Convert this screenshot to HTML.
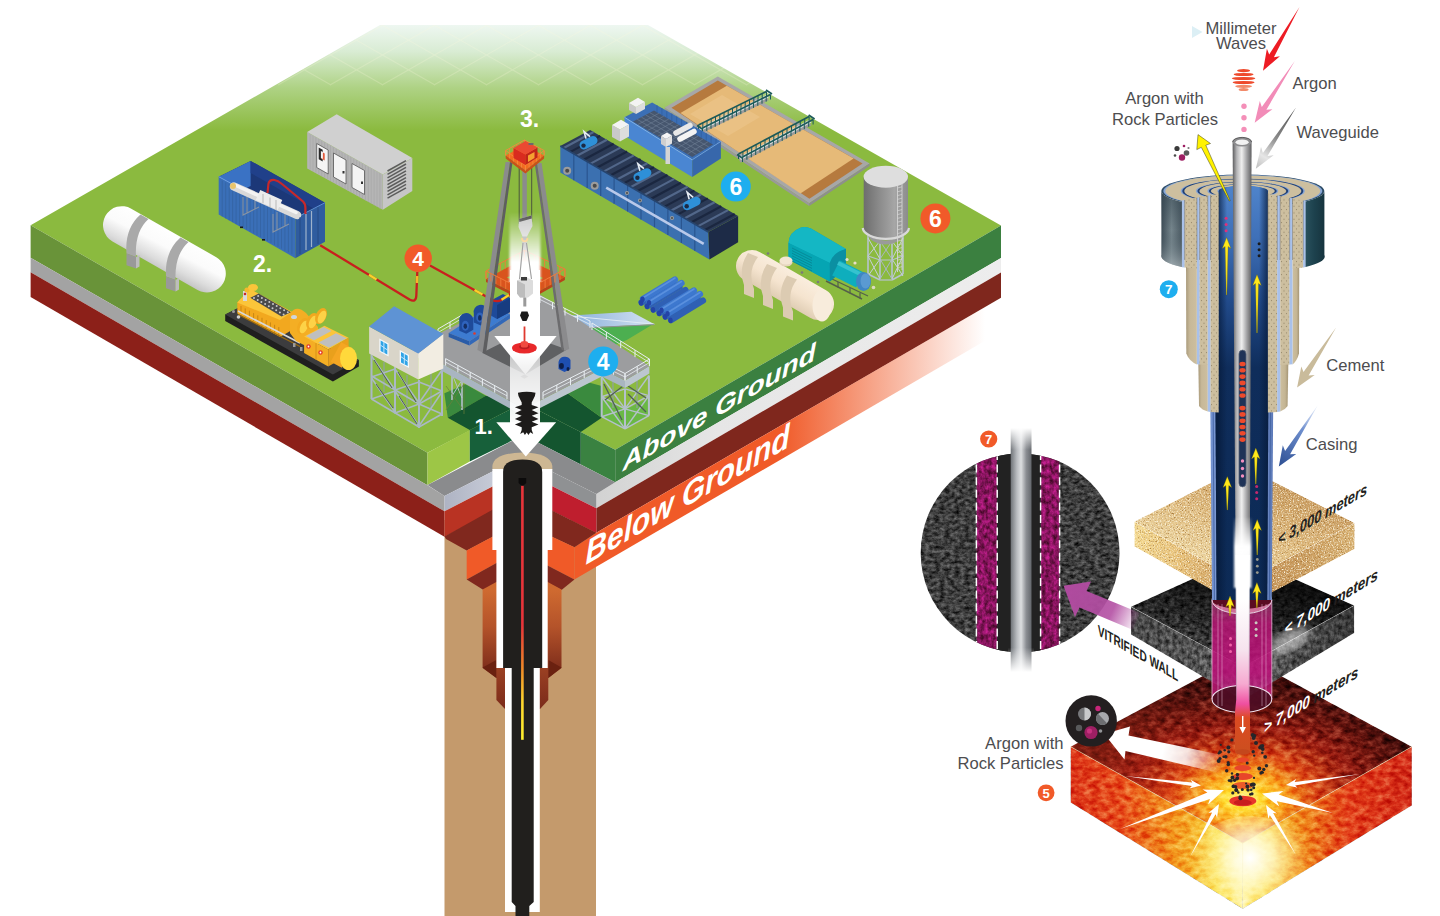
<!DOCTYPE html>
<html lang="en"><head><meta charset="utf-8"><title>Millimeter wave drilling</title>
<style>
html,body{margin:0;padding:0;background:#fff;}
body{width:1440px;height:916px;overflow:hidden;font-family:"Liberation Sans",sans-serif;}
svg{display:block;}
text{font-family:"Liberation Sans",sans-serif;}
</style></head><body>
<svg width="1440" height="916" viewBox="0 0 1440 916">
<defs>
<clipPath id="clipTopFade"><polygon points="30.6,225.3 380,25 648,25 1001,225.6 515,500"/></clipPath>
<linearGradient id="gTop" gradientUnits="userSpaceOnUse" x1="0" y1="25" x2="0" y2="130"><stop offset="0" stop-color="#eef7f1"/><stop offset="0.25" stop-color="#d9ecd4"/><stop offset="0.6" stop-color="#aed284"/><stop offset="1" stop-color="#8bba3f"/></linearGradient><linearGradient id="gOrange" gradientUnits="userSpaceOnUse" x1="780" y1="0" x2="985" y2="0"><stop offset="0" stop-color="#f05a28" stop-opacity="1"/><stop offset="1" stop-color="#f05a28" stop-opacity="0"/></linearGradient><linearGradient id="gSilver" gradientUnits="userSpaceOnUse" x1="444" y1="0" x2="522" y2="0"><stop offset="0" stop-color="#aeb3c3"/><stop offset="1" stop-color="#d4d8e2"/></linearGradient><linearGradient id="gWhiteBand" gradientUnits="userSpaceOnUse" x1="596" y1="0" x2="1001" y2="0"><stop offset="0" stop-color="#d2d2d2"/><stop offset="0.3" stop-color="#e6e6e6"/><stop offset="1" stop-color="#ededed"/></linearGradient><linearGradient id="gBrownA" gradientUnits="userSpaceOnUse" x1="0" y1="590" x2="0" y2="672"><stop offset="0" stop-color="#cf6a30"/><stop offset="0.45" stop-color="#b4532a"/><stop offset="1" stop-color="#7b2b1a"/></linearGradient><linearGradient id="gBrownB" gradientUnits="userSpaceOnUse" x1="0" y1="590" x2="0" y2="709"><stop offset="0" stop-color="#c8642e"/><stop offset="0.5" stop-color="#a94a27"/><stop offset="1" stop-color="#7b2b1a"/></linearGradient><linearGradient id="gLine" gradientUnits="userSpaceOnUse" x1="0" y1="485" x2="0" y2="740"><stop offset="0" stop-color="#e8343a"/><stop offset="0.55" stop-color="#e8343a"/><stop offset="0.72" stop-color="#f08a28"/><stop offset="0.85" stop-color="#ffd62e"/><stop offset="1" stop-color="#fff02e"/></linearGradient><linearGradient id="gArrowFade" gradientUnits="userSpaceOnUse" x1="0" y1="212" x2="0" y2="262"><stop offset="0" stop-color="#ffffff" stop-opacity="0"/><stop offset="1" stop-color="#ffffff" stop-opacity="1"/></linearGradient><linearGradient id="gArrowHead" gradientUnits="userSpaceOnUse" x1="0" y1="336" x2="0" y2="376"><stop offset="0" stop-color="#ffffff" stop-opacity="1"/><stop offset="0.45" stop-color="#ffffff" stop-opacity="1"/><stop offset="1" stop-color="#ffffff" stop-opacity="0.55"/></linearGradient><linearGradient id="gArrowMid" gradientUnits="userSpaceOnUse" x1="0" y1="336" x2="0" y2="425"><stop offset="0" stop-color="#ffffff" stop-opacity="0.55"/><stop offset="0.5" stop-color="#ffffff" stop-opacity="0.8"/><stop offset="1" stop-color="#ffffff" stop-opacity="1"/></linearGradient><filter id="fBlurA" x="-20%" y="-5%" width="140%" height="110%"><feGaussianBlur stdDeviation="1.3 0"/></filter><linearGradient id="gTank" gradientUnits="userSpaceOnUse" x1="175" y1="230" x2="155" y2="268"><stop offset="0" stop-color="#ffffff"/><stop offset="0.45" stop-color="#fbfbfb"/><stop offset="0.8" stop-color="#dcdcdc"/><stop offset="1" stop-color="#c4c4c4"/></linearGradient><linearGradient id="gCream" gradientUnits="userSpaceOnUse" x1="797" y1="268" x2="775" y2="305"><stop offset="0" stop-color="#fbf0e2"/><stop offset="0.5" stop-color="#f5e4cf"/><stop offset="1" stop-color="#d6c3a8"/></linearGradient><linearGradient id="gSilo" gradientUnits="userSpaceOnUse" x1="863" y1="0" x2="908" y2="0"><stop offset="0" stop-color="#6c6c6c"/><stop offset="0.35" stop-color="#8a8a8a"/><stop offset="0.7" stop-color="#a6a6a6"/><stop offset="1" stop-color="#8c8c8c"/></linearGradient><linearGradient id="gRamp" gradientUnits="userSpaceOnUse" x1="567" y1="0" x2="654" y2="0"><stop offset="0" stop-color="#86aedb"/><stop offset="0.6" stop-color="#b5cde8"/><stop offset="1" stop-color="#d5e3f0"/></linearGradient><linearGradient id="gTeal" gradientUnits="userSpaceOnUse" x1="790" y1="230" x2="830" y2="280"><stop offset="0" stop-color="#12b5c2"/><stop offset="1" stop-color="#0096aa"/></linearGradient><linearGradient id="gPipe" gradientUnits="objectBoundingBox" x1="0" y1="0" x2="1" y2="1"><stop offset="0" stop-color="#5a8fe0"/><stop offset="1" stop-color="#2d5fb5"/></linearGradient><linearGradient id="gLegL" gradientUnits="objectBoundingBox" x1="0" y1="0" x2="1" y2="0"><stop offset="0" stop-color="#9a9a9c"/><stop offset="0.5" stop-color="#8a8a8c"/><stop offset="0.5" stop-color="#5e5e60"/><stop offset="1" stop-color="#6a6a6c"/></linearGradient><linearGradient id="gWG" gradientUnits="objectBoundingBox" x1="0" y1="0" x2="1" y2="0"><stop offset="0" stop-color="#5c5c5e"/><stop offset="0.22" stop-color="#b4b4b6"/><stop offset="0.48" stop-color="#efefef"/><stop offset="0.75" stop-color="#a2a2a4"/><stop offset="1" stop-color="#606062"/></linearGradient><linearGradient id="gBoreV" gradientUnits="userSpaceOnUse" x1="0" y1="185" x2="0" y2="620"><stop offset="0" stop-color="#4f84cb"/><stop offset="0.12" stop-color="#3f70b8"/><stop offset="0.27" stop-color="#214a8a"/><stop offset="0.42" stop-color="#0f2d5b"/><stop offset="1" stop-color="#0c2a55"/></linearGradient><linearGradient id="gBoreH" gradientUnits="userSpaceOnUse" x1="1218" y1="0" x2="1268" y2="0"><stop offset="0" stop-color="#061a3a" stop-opacity="0.75"/><stop offset="0.18" stop-color="#061a3a" stop-opacity="0"/><stop offset="0.82" stop-color="#061a3a" stop-opacity="0"/><stop offset="1" stop-color="#061a3a" stop-opacity="0.75"/></linearGradient><linearGradient id="gOuterL" gradientUnits="userSpaceOnUse" x1="1161" y1="0" x2="1182" y2="0"><stop offset="0" stop-color="#3c4b55"/><stop offset="0.5" stop-color="#75858c"/><stop offset="1" stop-color="#4b5a63"/></linearGradient><linearGradient id="gOuterLV" gradientUnits="userSpaceOnUse" x1="0" y1="195" x2="0" y2="265"><stop offset="0" stop-color="#2d3f4a" stop-opacity="0.5"/><stop offset="0.5" stop-color="#2d3f4a" stop-opacity="0"/><stop offset="1" stop-color="#c5cdd0" stop-opacity="0.45"/></linearGradient><linearGradient id="gOuterR" gradientUnits="userSpaceOnUse" x1="1303" y1="0" x2="1325" y2="0"><stop offset="0" stop-color="#2d5561"/><stop offset="0.5" stop-color="#1d424e"/><stop offset="1" stop-color="#16333d"/></linearGradient><linearGradient id="gBeigeOut" gradientUnits="objectBoundingBox" x1="0" y1="0" x2="1" y2="0"><stop offset="0" stop-color="#a99a7b"/><stop offset="0.35" stop-color="#c7b898"/><stop offset="1" stop-color="#cdbf9f"/></linearGradient><linearGradient id="gBeigeOutR" gradientUnits="objectBoundingBox" x1="0" y1="0" x2="1" y2="0"><stop offset="0" stop-color="#cdbf9f"/><stop offset="0.6" stop-color="#c4b594"/><stop offset="1" stop-color="#a39474"/></linearGradient><pattern id="pDots" width="5" height="6.5" patternUnits="userSpaceOnUse"><rect width="5" height="6.5" fill="#cdbf9f"/><circle cx="1.5" cy="1.5" r="0.55" fill="#8f8164"/><circle cx="4" cy="4.8" r="0.55" fill="#8f8164"/></pattern><linearGradient id="gCasingEdge" gradientUnits="objectBoundingBox" x1="0" y1="0" x2="1" y2="0"><stop offset="0" stop-color="#6f8fce"/><stop offset="0.5" stop-color="#b7c9ee"/><stop offset="1" stop-color="#5b79b8"/></linearGradient><linearGradient id="gArrGrey" gradientUnits="userSpaceOnUse" x1="1296" y1="107" x2="1256" y2="169"><stop offset="0" stop-color="#4a4a4a"/><stop offset="0.5" stop-color="#8a8a8a"/><stop offset="0.8" stop-color="#e6e6e6"/><stop offset="1" stop-color="#bdbdbd"/></linearGradient><linearGradient id="gArrBlue" gradientUnits="userSpaceOnUse" x1="1318" y1="405" x2="1279" y2="466"><stop offset="0" stop-color="#9db7e6" stop-opacity="0.2"/><stop offset="0.4" stop-color="#6f8fce"/><stop offset="1" stop-color="#2d4f93"/></linearGradient><linearGradient id="gArrPurple" gradientUnits="userSpaceOnUse" x1="1140" y1="621" x2="1064" y2="586"><stop offset="0" stop-color="#b34fa3" stop-opacity="0"/><stop offset="0.35" stop-color="#b34fa3" stop-opacity="0.9"/><stop offset="1" stop-color="#b04a9f"/></linearGradient><linearGradient id="gArrWhite" gradientUnits="userSpaceOnUse" x1="1222" y1="764" x2="1104" y2="738"><stop offset="0" stop-color="#ffffff" stop-opacity="0"/><stop offset="0.3" stop-color="#ffffff" stop-opacity="0.85"/><stop offset="0.5" stop-color="#ffffff" stop-opacity="1"/><stop offset="1" stop-color="#ffffff"/></linearGradient><linearGradient id="gSandTop" gradientUnits="userSpaceOnUse" x1="1260" y1="470" x2="1215" y2="580"><stop offset="0" stop-color="#c5965a"/><stop offset="0.45" stop-color="#dcb679"/><stop offset="1" stop-color="#f0dba6"/></linearGradient><linearGradient id="gSandL" gradientUnits="userSpaceOnUse" x1="1134" y1="0" x2="1243" y2="0"><stop offset="0" stop-color="#f3d88e"/><stop offset="0.45" stop-color="#e6be76"/><stop offset="1" stop-color="#c4935a"/></linearGradient><linearGradient id="gSandR" gradientUnits="userSpaceOnUse" x1="1243" y1="0" x2="1355" y2="0"><stop offset="0" stop-color="#c08c50"/><stop offset="0.5" stop-color="#c99a5c"/><stop offset="1" stop-color="#d7b071"/></linearGradient><linearGradient id="gRockTop" gradientUnits="userSpaceOnUse" x1="1250" y1="560" x2="1225" y2="665"><stop offset="0" stop-color="#080808"/><stop offset="0.4" stop-color="#1c1c1c"/><stop offset="1" stop-color="#454545"/></linearGradient><linearGradient id="gRockL" gradientUnits="userSpaceOnUse" x1="1131" y1="0" x2="1243" y2="0"><stop offset="0" stop-color="#4a4a4a"/><stop offset="1" stop-color="#626262"/></linearGradient><linearGradient id="gRockR" gradientUnits="userSpaceOnUse" x1="1243" y1="0" x2="1354" y2="0"><stop offset="0" stop-color="#7a7a7a"/><stop offset="0.4" stop-color="#505050"/><stop offset="1" stop-color="#3c3c3c"/></linearGradient><radialGradient id="gRedTop" gradientUnits="userSpaceOnUse" cx="1242.7" cy="798" r="175" gradientTransform="translate(1242.7 798) scale(1 0.62) translate(-1242.7 -798)"><stop offset="0" stop-color="#fff7a0"/><stop offset="0.1" stop-color="#ffe23a"/><stop offset="0.24" stop-color="#f9a41e"/><stop offset="0.42" stop-color="#dc4a18"/><stop offset="0.65" stop-color="#9c1d12"/><stop offset="1" stop-color="#4a0f0c"/></radialGradient><linearGradient id="gRedL" gradientUnits="userSpaceOnUse" x1="1070" y1="0" x2="1243" y2="0"><stop offset="0" stop-color="#dd3418"/><stop offset="0.3" stop-color="#e8501c"/><stop offset="0.6" stop-color="#f39a1e"/><stop offset="0.85" stop-color="#fbe04a"/><stop offset="1" stop-color="#fff6b0"/></linearGradient><linearGradient id="gRedR" gradientUnits="userSpaceOnUse" x1="1243" y1="0" x2="1412" y2="0"><stop offset="0" stop-color="#fff6b0"/><stop offset="0.13" stop-color="#fbd83c"/><stop offset="0.36" stop-color="#f08a1c"/><stop offset="0.62" stop-color="#e3401a"/><stop offset="1" stop-color="#d42a18"/></linearGradient><linearGradient id="gRedTopL" gradientUnits="userSpaceOnUse" x1="1072" y1="748" x2="1190" y2="760"><stop offset="0" stop-color="#d8351a" stop-opacity="0.4"/><stop offset="1" stop-color="#d8351a" stop-opacity="0"/></linearGradient><radialGradient id="gGlow" gradientUnits="userSpaceOnUse" cx="1250" cy="858" r="60" ><stop offset="0" stop-color="#ffffff" stop-opacity="1"/><stop offset="0.4" stop-color="#fffbd0" stop-opacity="0.8"/><stop offset="1" stop-color="#fff080" stop-opacity="0"/></radialGradient><linearGradient id="gMag" gradientUnits="userSpaceOnUse" x1="0" y1="596" x2="0" y2="705"><stop offset="0" stop-color="#e9509f" stop-opacity="0.45"/><stop offset="0.25" stop-color="#c4157c" stop-opacity="0.8"/><stop offset="0.7" stop-color="#b80f76" stop-opacity="0.9"/><stop offset="1" stop-color="#d0208a" stop-opacity="0.6"/></linearGradient><linearGradient id="gBeamLow" gradientUnits="userSpaceOnUse" x1="0" y1="560" x2="0" y2="760"><stop offset="0" stop-color="#ffffff"/><stop offset="0.2" stop-color="#ffffff"/><stop offset="0.45" stop-color="#f6e3ee"/><stop offset="0.62" stop-color="#f6a9d0"/><stop offset="0.72" stop-color="#ef4fa0"/><stop offset="0.79" stop-color="#dc4a22"/><stop offset="1" stop-color="#c8501e"/></linearGradient><linearGradient id="gWGlow" gradientUnits="userSpaceOnUse" x1="0" y1="515" x2="0" y2="585"><stop offset="0" stop-color="#ffffff" stop-opacity="0"/><stop offset="0.45" stop-color="#ffffff" stop-opacity="1"/><stop offset="1" stop-color="#ffffff" stop-opacity="0.9"/></linearGradient><linearGradient id="gRod" gradientUnits="objectBoundingBox" x1="0" y1="0" x2="1" y2="0"><stop offset="0" stop-color="#6f7378"/><stop offset="0.3" stop-color="#b9bcc0"/><stop offset="0.5" stop-color="#dcdee0"/><stop offset="0.75" stop-color="#8a8d92"/><stop offset="1" stop-color="#63676c"/></linearGradient><linearGradient id="gRodFade" gradientUnits="userSpaceOnUse" x1="0" y1="428" x2="0" y2="672"><stop offset="0" stop-color="#ffffff" stop-opacity="1"/><stop offset="0.09" stop-color="#ffffff" stop-opacity="0"/><stop offset="0.9" stop-color="#ffffff" stop-opacity="0"/><stop offset="1" stop-color="#ffffff" stop-opacity="1"/></linearGradient><filter id="fSand" x="0" y="0" width="100%" height="100%" color-interpolation-filters="sRGB">
<feTurbulence type="fractalNoise" baseFrequency="0.75" numOctaves="2" seed="4" result="n"/>
<feColorMatrix in="n" type="matrix" values="0 0 0 0 1  0 0 0 0 0.98  0 0 0 0 0.9  2.6 0 0 0 -1.25" result="w"/>
<feColorMatrix in="n" type="matrix" values="0 0 0 0 0.55  0 0 0 0 0.35  0 0 0 0 0.1  0 -2.6 0 0 1.15" result="k"/>
<feMerge result="m"><feMergeNode in="SourceGraphic"/><feMergeNode in="k"/><feMergeNode in="w"/></feMerge>
<feComposite in="m" in2="SourceGraphic" operator="in"/></filter><filter id="fRock" x="0" y="0" width="100%" height="100%" color-interpolation-filters="sRGB">
<feTurbulence type="fractalNoise" baseFrequency="0.2 0.28" numOctaves="4" seed="11" result="n"/>
<feColorMatrix in="n" type="matrix" values="1.15 0 0 0 -0.09  1.15 0 0 0 -0.09  1.15 0 0 0 -0.09  0 0 0 0 1" result="g"/>
<feBlend in="g" in2="SourceGraphic" mode="overlay" result="b"/>
<feComposite in="b" in2="SourceGraphic" operator="in"/></filter><filter id="fRock2" x="0" y="0" width="100%" height="100%" color-interpolation-filters="sRGB">
<feTurbulence type="fractalNoise" baseFrequency="0.26 0.2" numOctaves="4" seed="23" result="n"/>
<feColorMatrix in="n" type="matrix" values="0.85 0 0 0 0.06  0.85 0 0 0 0.06  0.85 0 0 0 0.06  0 0 0 0 1" result="g"/>
<feBlend in="g" in2="SourceGraphic" mode="overlay" result="b"/>
<feComposite in="b" in2="SourceGraphic" operator="in"/></filter><filter id="fLava" x="0" y="0" width="100%" height="100%" color-interpolation-filters="sRGB">
<feTurbulence type="fractalNoise" baseFrequency="0.12 0.18" numOctaves="4" seed="7" result="n"/>
<feColorMatrix in="n" type="matrix" values="1.5 0 0 0 -0.27  1.5 0 0 0 -0.27  1.5 0 0 0 -0.27  0 0 0 0 1" result="g"/>
<feBlend in="g" in2="SourceGraphic" mode="soft-light" result="b"/>
<feComposite in="b" in2="SourceGraphic" operator="in"/></filter><filter id="fRockD" x="0" y="0" width="100%" height="100%" color-interpolation-filters="sRGB">
<feTurbulence type="fractalNoise" baseFrequency="0.2 0.28" numOctaves="4" seed="3" result="n"/>
<feColorMatrix in="n" type="matrix" values="1.3 0 0 0 -0.2  1.3 0 0 0 -0.2  1.3 0 0 0 -0.2  0 0 0 0 1" result="g"/>
<feBlend in="g" in2="SourceGraphic" mode="overlay" result="b"/>
<feComposite in="b" in2="SourceGraphic" operator="in"/></filter><filter id="fBlur2"><feGaussianBlur stdDeviation="2"/></filter><filter id="fBlur4"><feGaussianBlur stdDeviation="4"/></filter><filter id="fBlur1"><feGaussianBlur stdDeviation="1"/></filter><clipPath id="clipRed"><polygon points="1070.7,746.7 1242,655 1411.8,746.7 1411.8,805.4 1242.7,908.8 1070.7,802.6"/></clipPath><clipPath id="clipMag"><circle cx="1020.1" cy="552.9" r="99.4"/></clipPath><clipPath id="clipRingTop"><rect x="1150" y="160" width="190" height="33"/></clipPath>
</defs>
<rect x="444.5" y="520.0" width="151.5" height="400.0" fill="#c49a6c" /><polygon points="30.6,225.3 380.0,25.0 648.0,25.0 1001.0,225.6 615.2,449.8 523.2,402.6 427.5,452.7" fill="url(#gTop)" /><g opacity="0.22" clip-path="url(#clipTopFade)"><line x1="278.0" y1="85.0" x2="383.0" y2="25.0" stroke="#fffbe0" stroke-width="1.2" /><line x1="331.0" y1="85.0" x2="226.0" y2="25.0" stroke="#fffbe0" stroke-width="1.2" /><line x1="330.0" y1="85.0" x2="435.0" y2="25.0" stroke="#fffbe0" stroke-width="1.2" /><line x1="383.0" y1="85.0" x2="278.0" y2="25.0" stroke="#fffbe0" stroke-width="1.2" /><line x1="382.0" y1="85.0" x2="487.0" y2="25.0" stroke="#fffbe0" stroke-width="1.2" /><line x1="435.0" y1="85.0" x2="330.0" y2="25.0" stroke="#fffbe0" stroke-width="1.2" /><line x1="434.0" y1="85.0" x2="539.0" y2="25.0" stroke="#fffbe0" stroke-width="1.2" /><line x1="487.0" y1="85.0" x2="382.0" y2="25.0" stroke="#fffbe0" stroke-width="1.2" /><line x1="486.0" y1="85.0" x2="591.0" y2="25.0" stroke="#fffbe0" stroke-width="1.2" /><line x1="539.0" y1="85.0" x2="434.0" y2="25.0" stroke="#fffbe0" stroke-width="1.2" /><line x1="538.0" y1="85.0" x2="643.0" y2="25.0" stroke="#fffbe0" stroke-width="1.2" /><line x1="591.0" y1="85.0" x2="486.0" y2="25.0" stroke="#fffbe0" stroke-width="1.2" /><line x1="590.0" y1="85.0" x2="695.0" y2="25.0" stroke="#fffbe0" stroke-width="1.2" /><line x1="643.0" y1="85.0" x2="538.0" y2="25.0" stroke="#fffbe0" stroke-width="1.2" /><line x1="642.0" y1="85.0" x2="747.0" y2="25.0" stroke="#fffbe0" stroke-width="1.2" /><line x1="695.0" y1="85.0" x2="590.0" y2="25.0" stroke="#fffbe0" stroke-width="1.2" /><line x1="694.0" y1="85.0" x2="799.0" y2="25.0" stroke="#fffbe0" stroke-width="1.2" /><line x1="747.0" y1="85.0" x2="642.0" y2="25.0" stroke="#fffbe0" stroke-width="1.2" /><line x1="746.0" y1="85.0" x2="851.0" y2="25.0" stroke="#fffbe0" stroke-width="1.2" /><line x1="799.0" y1="85.0" x2="694.0" y2="25.0" stroke="#fffbe0" stroke-width="1.2" /><line x1="798.0" y1="85.0" x2="903.0" y2="25.0" stroke="#fffbe0" stroke-width="1.2" /><line x1="851.0" y1="85.0" x2="746.0" y2="25.0" stroke="#fffbe0" stroke-width="1.2" /></g><polygon points="30.6,225.3 427.5,452.7 427.5,485.2 30.6,257.8" fill="#699339" /><polygon points="30.6,257.8 427.5,485.2 444.5,496.0 444.5,511.3 30.6,272.3" fill="#a3a3a3" /><polygon points="30.6,272.3 444.5,511.3 444.5,536.8 30.6,297.0" fill="#8c2019" /><polygon points="615.2,449.8 1001.0,225.6 1001.0,258.1 615.2,482.3" fill="#3b8040" /><polygon points="596.3,494.0 615.2,482.3 1001.0,258.1 1001.0,272.5 596.3,508.3" fill="url(#gWhiteBand)" /><polygon points="596.3,508.3 1001.0,272.5 1001.0,297.7 596.3,532.7" fill="#7f271d" /><polygon points="574.4,547.3 596.3,532.7 1001.0,297.7 1001.0,331.5 574.4,579.4" fill="url(#gOrange)" /><polygon points="427.5,452.7 469.8,430.1 469.8,461.5 427.5,485.1" fill="#9dc646" /><polygon points="469.8,430.1 523.2,402.6 523.2,435.1 469.8,461.5" fill="#17603a" /><polygon points="523.2,402.6 580.8,432.1 580.8,464.6 523.2,435.1" fill="#14552f" /><polygon points="580.8,432.1 615.2,449.8 615.2,482.3 580.8,464.6" fill="#3a8241" /><polygon points="427.5,485.1 523.2,435.1 615.2,482.3 596.3,494.0 521.8,456.5 444.5,496.0" fill="#8a8b8d" /><polygon points="521.8,456.5 596.3,494.0 596.3,508.3 521.8,471.0" fill="#8f9193" /><polygon points="444.5,496.0 521.8,456.5 521.8,471.0 444.5,511.3" fill="url(#gSilver)" /><polygon points="444.5,511.3 521.8,471.5 521.8,496.0 444.5,536.8" fill="#b93323" /><polygon points="521.8,471.0 596.3,508.3 596.3,532.7 521.8,496.0" fill="#bf1e2e" /><polygon points="444.5,536.6 522.0,493.2 522.0,521.1 466.7,550.6 446.0,538.9" fill="#80281e" /><polygon points="522.0,495.4 596.3,532.7 574.4,547.3 522.0,522.7" fill="#80281e" /><polygon points="466.7,550.6 522.0,521.1 522.0,549.0 466.7,579.4" fill="#f05a28" /><polygon points="522.0,522.7 574.4,547.3 574.4,579.4 522.0,552.3" fill="#f05a28" /><polygon points="466.7,579.4 522.0,549.0 522.0,568.5 483.5,590.0" fill="#80281e" /><polygon points="522.0,552.3 574.4,579.4 561.5,590.0 522.0,570.0" fill="#80281e" /><polygon points="482.6,589.5 522.0,568.0 561.5,589.5 561.5,668.0 548.3,678.0 496.4,678.0 482.6,668.0" fill="url(#gBrownA)" /><polygon points="482.6,667.6 496.4,660.0 496.4,678.0" fill="#6a2110" /><polygon points="561.5,667.6 548.3,660.0 548.3,678.0" fill="#6a2110" /><polygon points="496.4,600.0 548.3,600.0 548.3,700.0 540.0,709.0 505.0,709.0 496.4,700.0" fill="url(#gBrownB)" /><polygon points="664.7,107.5 717.8,76.5 869.6,163.5 809.2,203.3" fill="#a7a7a7" /><polygon points="809.2,203.3 869.6,163.5 869.6,166.0 809.2,206.0" fill="#8e8e8e" /><polygon points="664.7,107.5 809.2,203.3 809.2,206.0 664.7,110.0" fill="#999999" /><polygon points="671.5,107.8 717.8,80.6 862.6,163.6 809.4,198.8" fill="#b67a3e" /><polygon points="680.5,113.0 726.8,85.8 853.6,158.4 800.4,193.6" fill="#e6ba78" /><polygon points="690.0,114.0 722.0,95.0 760.0,117.0 728.0,136.0" fill="#ecc78c" opacity="0.6"/><line x1="700.0" y1="132.5" x2="768.0" y2="99.0" stroke="#9a9a9a" stroke-width="3" /><line x1="700.0" y1="129.5" x2="768.0" y2="96.0" stroke="#d9dde0" stroke-width="3.2" /><line x1="698.5" y1="125.0" x2="766.5" y2="91.5" stroke="#1c5a59" stroke-width="1.6" /><line x1="702.5" y1="128.0" x2="770.5" y2="94.5" stroke="#1c5a59" stroke-width="1.6" /><line x1="698.5" y1="125.0" x2="698.5" y2="130.0" stroke="#1c5a59" stroke-width="1" /><line x1="702.5" y1="128.0" x2="702.5" y2="133.0" stroke="#1c5a59" stroke-width="1" /><line x1="702.8" y1="122.9" x2="702.8" y2="127.9" stroke="#1c5a59" stroke-width="1" /><line x1="706.8" y1="125.9" x2="706.8" y2="130.9" stroke="#1c5a59" stroke-width="1" /><line x1="707.0" y1="120.8" x2="707.0" y2="125.8" stroke="#1c5a59" stroke-width="1" /><line x1="711.0" y1="123.8" x2="711.0" y2="128.8" stroke="#1c5a59" stroke-width="1" /><line x1="711.2" y1="118.7" x2="711.2" y2="123.7" stroke="#1c5a59" stroke-width="1" /><line x1="715.2" y1="121.7" x2="715.2" y2="126.7" stroke="#1c5a59" stroke-width="1" /><line x1="715.5" y1="116.6" x2="715.5" y2="121.6" stroke="#1c5a59" stroke-width="1" /><line x1="719.5" y1="119.6" x2="719.5" y2="124.6" stroke="#1c5a59" stroke-width="1" /><line x1="719.8" y1="114.5" x2="719.8" y2="119.5" stroke="#1c5a59" stroke-width="1" /><line x1="723.8" y1="117.5" x2="723.8" y2="122.5" stroke="#1c5a59" stroke-width="1" /><line x1="724.0" y1="112.4" x2="724.0" y2="117.4" stroke="#1c5a59" stroke-width="1" /><line x1="728.0" y1="115.4" x2="728.0" y2="120.4" stroke="#1c5a59" stroke-width="1" /><line x1="728.2" y1="110.3" x2="728.2" y2="115.3" stroke="#1c5a59" stroke-width="1" /><line x1="732.2" y1="113.3" x2="732.2" y2="118.3" stroke="#1c5a59" stroke-width="1" /><line x1="732.5" y1="108.2" x2="732.5" y2="113.2" stroke="#1c5a59" stroke-width="1" /><line x1="736.5" y1="111.2" x2="736.5" y2="116.2" stroke="#1c5a59" stroke-width="1" /><line x1="736.8" y1="106.2" x2="736.8" y2="111.2" stroke="#1c5a59" stroke-width="1" /><line x1="740.8" y1="109.2" x2="740.8" y2="114.2" stroke="#1c5a59" stroke-width="1" /><line x1="741.0" y1="104.1" x2="741.0" y2="109.1" stroke="#1c5a59" stroke-width="1" /><line x1="745.0" y1="107.1" x2="745.0" y2="112.1" stroke="#1c5a59" stroke-width="1" /><line x1="745.2" y1="102.0" x2="745.2" y2="107.0" stroke="#1c5a59" stroke-width="1" /><line x1="749.2" y1="105.0" x2="749.2" y2="110.0" stroke="#1c5a59" stroke-width="1" /><line x1="749.5" y1="99.9" x2="749.5" y2="104.9" stroke="#1c5a59" stroke-width="1" /><line x1="753.5" y1="102.9" x2="753.5" y2="107.9" stroke="#1c5a59" stroke-width="1" /><line x1="753.8" y1="97.8" x2="753.8" y2="102.8" stroke="#1c5a59" stroke-width="1" /><line x1="757.8" y1="100.8" x2="757.8" y2="105.8" stroke="#1c5a59" stroke-width="1" /><line x1="758.0" y1="95.7" x2="758.0" y2="100.7" stroke="#1c5a59" stroke-width="1" /><line x1="762.0" y1="98.7" x2="762.0" y2="103.7" stroke="#1c5a59" stroke-width="1" /><line x1="762.2" y1="93.6" x2="762.2" y2="98.6" stroke="#1c5a59" stroke-width="1" /><line x1="766.2" y1="96.6" x2="766.2" y2="101.6" stroke="#1c5a59" stroke-width="1" /><line x1="766.5" y1="91.5" x2="766.5" y2="96.5" stroke="#1c5a59" stroke-width="1" /><line x1="770.5" y1="94.5" x2="770.5" y2="99.5" stroke="#1c5a59" stroke-width="1" /><line x1="766.0" y1="90.0" x2="772.0" y2="94.0" stroke="#1c5a59" stroke-width="1.6" /><line x1="697.0" y1="125.5" x2="703.0" y2="129.5" stroke="#1c5a59" stroke-width="1.6" /><line x1="740.0" y1="161.5" x2="810.6" y2="124.0" stroke="#9a9a9a" stroke-width="3" /><line x1="740.0" y1="158.5" x2="810.6" y2="121.0" stroke="#d9dde0" stroke-width="3.2" /><line x1="738.5" y1="154.0" x2="809.1" y2="116.5" stroke="#1c5a59" stroke-width="1.6" /><line x1="742.5" y1="157.0" x2="813.1" y2="119.5" stroke="#1c5a59" stroke-width="1.6" /><line x1="738.5" y1="154.0" x2="738.5" y2="159.0" stroke="#1c5a59" stroke-width="1" /><line x1="742.5" y1="157.0" x2="742.5" y2="162.0" stroke="#1c5a59" stroke-width="1" /><line x1="742.9" y1="151.7" x2="742.9" y2="156.7" stroke="#1c5a59" stroke-width="1" /><line x1="746.9" y1="154.7" x2="746.9" y2="159.7" stroke="#1c5a59" stroke-width="1" /><line x1="747.3" y1="149.3" x2="747.3" y2="154.3" stroke="#1c5a59" stroke-width="1" /><line x1="751.3" y1="152.3" x2="751.3" y2="157.3" stroke="#1c5a59" stroke-width="1" /><line x1="751.7" y1="147.0" x2="751.7" y2="152.0" stroke="#1c5a59" stroke-width="1" /><line x1="755.7" y1="150.0" x2="755.7" y2="155.0" stroke="#1c5a59" stroke-width="1" /><line x1="756.1" y1="144.6" x2="756.1" y2="149.6" stroke="#1c5a59" stroke-width="1" /><line x1="760.1" y1="147.6" x2="760.1" y2="152.6" stroke="#1c5a59" stroke-width="1" /><line x1="760.6" y1="142.3" x2="760.6" y2="147.3" stroke="#1c5a59" stroke-width="1" /><line x1="764.6" y1="145.3" x2="764.6" y2="150.3" stroke="#1c5a59" stroke-width="1" /><line x1="765.0" y1="139.9" x2="765.0" y2="144.9" stroke="#1c5a59" stroke-width="1" /><line x1="769.0" y1="142.9" x2="769.0" y2="147.9" stroke="#1c5a59" stroke-width="1" /><line x1="769.4" y1="137.6" x2="769.4" y2="142.6" stroke="#1c5a59" stroke-width="1" /><line x1="773.4" y1="140.6" x2="773.4" y2="145.6" stroke="#1c5a59" stroke-width="1" /><line x1="773.8" y1="135.2" x2="773.8" y2="140.2" stroke="#1c5a59" stroke-width="1" /><line x1="777.8" y1="138.2" x2="777.8" y2="143.2" stroke="#1c5a59" stroke-width="1" /><line x1="778.2" y1="132.9" x2="778.2" y2="137.9" stroke="#1c5a59" stroke-width="1" /><line x1="782.2" y1="135.9" x2="782.2" y2="140.9" stroke="#1c5a59" stroke-width="1" /><line x1="782.6" y1="130.6" x2="782.6" y2="135.6" stroke="#1c5a59" stroke-width="1" /><line x1="786.6" y1="133.6" x2="786.6" y2="138.6" stroke="#1c5a59" stroke-width="1" /><line x1="787.0" y1="128.2" x2="787.0" y2="133.2" stroke="#1c5a59" stroke-width="1" /><line x1="791.0" y1="131.2" x2="791.0" y2="136.2" stroke="#1c5a59" stroke-width="1" /><line x1="791.5" y1="125.9" x2="791.5" y2="130.9" stroke="#1c5a59" stroke-width="1" /><line x1="795.5" y1="128.9" x2="795.5" y2="133.9" stroke="#1c5a59" stroke-width="1" /><line x1="795.9" y1="123.5" x2="795.9" y2="128.5" stroke="#1c5a59" stroke-width="1" /><line x1="799.9" y1="126.5" x2="799.9" y2="131.5" stroke="#1c5a59" stroke-width="1" /><line x1="800.3" y1="121.2" x2="800.3" y2="126.2" stroke="#1c5a59" stroke-width="1" /><line x1="804.3" y1="124.2" x2="804.3" y2="129.2" stroke="#1c5a59" stroke-width="1" /><line x1="804.7" y1="118.8" x2="804.7" y2="123.8" stroke="#1c5a59" stroke-width="1" /><line x1="808.7" y1="121.8" x2="808.7" y2="126.8" stroke="#1c5a59" stroke-width="1" /><line x1="809.1" y1="116.5" x2="809.1" y2="121.5" stroke="#1c5a59" stroke-width="1" /><line x1="813.1" y1="119.5" x2="813.1" y2="124.5" stroke="#1c5a59" stroke-width="1" /><line x1="808.6" y1="115.0" x2="814.6" y2="119.0" stroke="#1c5a59" stroke-width="1.6" /><line x1="737.0" y1="154.5" x2="743.0" y2="158.5" stroke="#1c5a59" stroke-width="1.6" /><polygon points="624.5,117.3 652.1,102.4 720.9,141.4 692.2,159.8" fill="#3b6fb6" /><polygon points="633.0,121.5 654.0,110.5 713.0,144.5 692.2,157.0" fill="#46566e" /><line x1="637.9" y1="124.5" x2="658.9" y2="113.3" stroke="#6f7f96" stroke-width="0.6" /><line x1="642.9" y1="127.4" x2="663.8" y2="116.2" stroke="#6f7f96" stroke-width="0.6" /><line x1="647.8" y1="130.4" x2="668.8" y2="119.0" stroke="#6f7f96" stroke-width="0.6" /><line x1="652.7" y1="133.3" x2="673.7" y2="121.8" stroke="#6f7f96" stroke-width="0.6" /><line x1="657.7" y1="136.3" x2="678.6" y2="124.7" stroke="#6f7f96" stroke-width="0.6" /><line x1="662.6" y1="139.2" x2="683.5" y2="127.5" stroke="#6f7f96" stroke-width="0.6" /><line x1="667.5" y1="142.2" x2="688.4" y2="130.3" stroke="#6f7f96" stroke-width="0.6" /><line x1="672.5" y1="145.2" x2="693.3" y2="133.2" stroke="#6f7f96" stroke-width="0.6" /><line x1="677.4" y1="148.1" x2="698.2" y2="136.0" stroke="#6f7f96" stroke-width="0.6" /><line x1="682.3" y1="151.1" x2="703.2" y2="138.8" stroke="#6f7f96" stroke-width="0.6" /><line x1="687.3" y1="154.0" x2="708.1" y2="141.7" stroke="#6f7f96" stroke-width="0.6" /><line x1="637.2" y1="119.3" x2="696.4" y2="154.5" stroke="#6f7f96" stroke-width="0.6" /><line x1="641.4" y1="117.1" x2="700.5" y2="152.0" stroke="#6f7f96" stroke-width="0.6" /><line x1="645.6" y1="114.9" x2="704.7" y2="149.5" stroke="#6f7f96" stroke-width="0.6" /><line x1="649.8" y1="112.7" x2="708.8" y2="147.0" stroke="#6f7f96" stroke-width="0.6" /><line x1="657.0" y1="105.2" x2="657.0" y2="113.2" stroke="#2f5c9c" stroke-width="0.7" /><line x1="661.9" y1="108.0" x2="661.9" y2="116.0" stroke="#2f5c9c" stroke-width="0.7" /><line x1="666.8" y1="110.8" x2="666.8" y2="118.8" stroke="#2f5c9c" stroke-width="0.7" /><line x1="671.8" y1="113.5" x2="671.8" y2="121.5" stroke="#2f5c9c" stroke-width="0.7" /><line x1="676.7" y1="116.3" x2="676.7" y2="124.3" stroke="#2f5c9c" stroke-width="0.7" /><line x1="681.6" y1="119.1" x2="681.6" y2="127.1" stroke="#2f5c9c" stroke-width="0.7" /><line x1="686.5" y1="121.9" x2="686.5" y2="129.9" stroke="#2f5c9c" stroke-width="0.7" /><line x1="691.4" y1="124.7" x2="691.4" y2="132.7" stroke="#2f5c9c" stroke-width="0.7" /><line x1="696.3" y1="127.5" x2="696.3" y2="135.5" stroke="#2f5c9c" stroke-width="0.7" /><line x1="701.2" y1="130.3" x2="701.2" y2="138.3" stroke="#2f5c9c" stroke-width="0.7" /><line x1="706.2" y1="133.0" x2="706.2" y2="141.0" stroke="#2f5c9c" stroke-width="0.7" /><line x1="711.1" y1="135.8" x2="711.1" y2="143.8" stroke="#2f5c9c" stroke-width="0.7" /><line x1="716.0" y1="138.6" x2="716.0" y2="146.6" stroke="#2f5c9c" stroke-width="0.7" /><polygon points="624.5,117.3 692.2,159.8 692.2,177.0 624.5,135.7" fill="#4a86d2" /><polygon points="692.2,159.8 720.9,141.4 720.9,158.6 692.2,177.0" fill="#3767ab" /><line x1="624.5" y1="117.3" x2="692.2" y2="159.8" stroke="#7fb0ea" stroke-width="1" /><line x1="692.2" y1="159.8" x2="720.9" y2="141.4" stroke="#6a9cdc" stroke-width="1" /><line x1="676.0" y1="133.0" x2="690.0" y2="125.5" stroke="#e8e8e8" stroke-width="5.5" stroke-linecap="round"/><line x1="680.0" y1="139.0" x2="694.0" y2="131.5" stroke="#f4f4f4" stroke-width="5.5" stroke-linecap="round"/><polygon points="629.0,110.0 636.0,114.0 636.0,107.0 629.0,103.0" fill="#c9c9c9" /><polygon points="636.0,114.0 645.0,108.9 645.0,101.9 636.0,107.0" fill="#dddddd" /><polygon points="629.0,103.0 636.0,107.0 645.0,101.9 638.0,97.8" fill="#f3f3f3" /><polygon points="612.0,137.0 620.0,141.6 620.0,129.6 612.0,125.0" fill="#c9c9c9" /><polygon points="620.0,141.6 629.0,136.4 629.0,124.4 620.0,129.6" fill="#dddddd" /><polygon points="612.0,125.0 620.0,129.6 629.0,124.4 621.0,119.8" fill="#f3f3f3" /><rect x="665.5" y="147.0" width="4.5" height="17.0" fill="#d4d4d4" /><polygon points="661.0,144.0 666.0,146.9 666.0,138.9 661.0,136.0" fill="#cfcfcf" /><polygon points="666.0,146.9 672.0,143.4 672.0,135.4 666.0,138.9" fill="#e2e2e2" /><polygon points="661.0,136.0 666.0,138.9 672.0,135.4 667.0,132.6" fill="#f5f5f5" /><polygon points="560.3,146.0 590.1,130.0 738.1,216.0 708.3,232.0" fill="#2b3a56" /><line x1="563.7" y1="148.0" x2="593.5" y2="132.0" stroke="#52678a" stroke-width="2.2" /><line x1="570.4" y1="151.9" x2="600.2" y2="135.9" stroke="#1b2740" stroke-width="2.2" /><line x1="577.1" y1="155.8" x2="606.9" y2="139.8" stroke="#52678a" stroke-width="2.2" /><line x1="583.8" y1="159.7" x2="613.6" y2="143.7" stroke="#1b2740" stroke-width="2.2" /><line x1="590.6" y1="163.6" x2="620.4" y2="147.6" stroke="#52678a" stroke-width="2.2" /><line x1="597.3" y1="167.5" x2="627.1" y2="151.5" stroke="#1b2740" stroke-width="2.2" /><line x1="604.0" y1="171.4" x2="633.8" y2="155.4" stroke="#52678a" stroke-width="2.2" /><line x1="610.8" y1="175.3" x2="640.6" y2="159.3" stroke="#1b2740" stroke-width="2.2" /><line x1="617.5" y1="179.2" x2="647.3" y2="163.2" stroke="#52678a" stroke-width="2.2" /><line x1="624.2" y1="183.1" x2="654.0" y2="167.1" stroke="#1b2740" stroke-width="2.2" /><line x1="630.9" y1="187.0" x2="660.7" y2="171.0" stroke="#52678a" stroke-width="2.2" /><line x1="637.7" y1="191.0" x2="667.5" y2="175.0" stroke="#1b2740" stroke-width="2.2" /><line x1="644.4" y1="194.9" x2="674.2" y2="178.9" stroke="#52678a" stroke-width="2.2" /><line x1="651.1" y1="198.8" x2="680.9" y2="182.8" stroke="#1b2740" stroke-width="2.2" /><line x1="657.8" y1="202.7" x2="687.6" y2="186.7" stroke="#52678a" stroke-width="2.2" /><line x1="664.6" y1="206.6" x2="694.4" y2="190.6" stroke="#1b2740" stroke-width="2.2" /><line x1="671.3" y1="210.5" x2="701.1" y2="194.5" stroke="#52678a" stroke-width="2.2" /><line x1="678.0" y1="214.4" x2="707.8" y2="198.4" stroke="#1b2740" stroke-width="2.2" /><line x1="684.8" y1="218.3" x2="714.6" y2="202.3" stroke="#52678a" stroke-width="2.2" /><line x1="691.5" y1="222.2" x2="721.3" y2="206.2" stroke="#1b2740" stroke-width="2.2" /><line x1="698.2" y1="226.1" x2="728.0" y2="210.1" stroke="#52678a" stroke-width="2.2" /><line x1="704.9" y1="230.0" x2="734.7" y2="214.0" stroke="#1b2740" stroke-width="2.2" /><polygon points="560.3,146.0 708.3,232.0 709.4,259.5 560.3,172.4" fill="#3b70b0" /><polygon points="708.3,232.0 738.1,216.0 738.1,242.3 709.4,259.5" fill="#1d2b47" /><line x1="573.8" y1="153.8" x2="573.8" y2="180.3" stroke="#2a5590" stroke-width="1.2" /><line x1="587.2" y1="161.6" x2="587.2" y2="188.1" stroke="#2a5590" stroke-width="1.2" /><line x1="600.7" y1="169.5" x2="600.7" y2="196.0" stroke="#2a5590" stroke-width="1.2" /><line x1="614.1" y1="177.3" x2="614.1" y2="203.8" stroke="#2a5590" stroke-width="1.2" /><line x1="627.6" y1="185.1" x2="627.6" y2="211.6" stroke="#2a5590" stroke-width="1.2" /><line x1="641.0" y1="192.9" x2="641.0" y2="219.4" stroke="#2a5590" stroke-width="1.2" /><line x1="654.5" y1="200.7" x2="654.5" y2="227.2" stroke="#2a5590" stroke-width="1.2" /><line x1="667.9" y1="208.5" x2="667.9" y2="235.0" stroke="#2a5590" stroke-width="1.2" /><line x1="681.4" y1="216.4" x2="681.4" y2="242.9" stroke="#2a5590" stroke-width="1.2" /><line x1="694.8" y1="224.2" x2="694.8" y2="250.7" stroke="#2a5590" stroke-width="1.2" /><line x1="560.3" y1="146.0" x2="708.3" y2="232.0" stroke="#27456f" stroke-width="1.5" /><line x1="606.2" y1="187.6" x2="703.7" y2="243.8" stroke="#b9c9ea" stroke-width="2.6" /><circle cx="567.2" cy="170.8" r="4.0" fill="#9c9c9c" /><circle cx="567.2" cy="170.8" r="2.0" fill="#4a4a4a" /><circle cx="594.7" cy="185.7" r="4.0" fill="#9c9c9c" /><circle cx="594.7" cy="185.7" r="2.0" fill="#4a4a4a" /><circle cx="627.0" cy="193.0" r="2.0" fill="#9c9c9c" /><circle cx="627.0" cy="193.0" r="1.0" fill="#4a4a4a" /><circle cx="640.0" cy="200.5" r="2.0" fill="#9c9c9c" /><circle cx="640.0" cy="200.5" r="1.0" fill="#4a4a4a" /><circle cx="672.0" cy="218.0" r="2.0" fill="#9c9c9c" /><circle cx="672.0" cy="218.0" r="1.0" fill="#4a4a4a" /><line x1="584.0" y1="145.1" x2="593.0" y2="140.6" stroke="#2e90d8" stroke-width="9" stroke-linecap="round"/><circle cx="583.5" cy="145.6" r="2.2" fill="#1b2a44" /><path d="M586.0,138.6 L584.0,131.6 L590.0,136.6" fill="none" stroke="#e8eef5" stroke-width="1.6"/><line x1="637.9" y1="177.2" x2="646.9" y2="172.7" stroke="#2e90d8" stroke-width="9" stroke-linecap="round"/><circle cx="637.4" cy="177.7" r="2.2" fill="#1b2a44" /><path d="M639.9,170.7 L637.9,163.7 L643.9,168.7" fill="none" stroke="#e8eef5" stroke-width="1.6"/><line x1="687.2" y1="205.8" x2="696.2" y2="201.3" stroke="#2e90d8" stroke-width="9" stroke-linecap="round"/><circle cx="686.7" cy="206.3" r="2.2" fill="#1b2a44" /><path d="M689.2,199.3 L687.2,192.3 L693.2,197.3" fill="none" stroke="#e8eef5" stroke-width="1.6"/><polygon points="307.2,131.9 382.8,174.4 382.8,209.8 307.2,168.5" fill="#b5b5b5" /><line x1="310.1" y1="133.5" x2="310.1" y2="169.5" stroke="#a6a6a6" stroke-width="0.7" /><line x1="313.0" y1="135.2" x2="313.0" y2="171.2" stroke="#a6a6a6" stroke-width="0.7" /><line x1="315.9" y1="136.8" x2="315.9" y2="172.8" stroke="#a6a6a6" stroke-width="0.7" /><line x1="318.8" y1="138.4" x2="318.8" y2="174.4" stroke="#a6a6a6" stroke-width="0.7" /><line x1="321.7" y1="140.1" x2="321.7" y2="176.1" stroke="#a6a6a6" stroke-width="0.7" /><line x1="324.6" y1="141.7" x2="324.6" y2="177.7" stroke="#a6a6a6" stroke-width="0.7" /><line x1="327.6" y1="143.3" x2="327.6" y2="179.3" stroke="#a6a6a6" stroke-width="0.7" /><line x1="330.5" y1="145.0" x2="330.5" y2="181.0" stroke="#a6a6a6" stroke-width="0.7" /><line x1="333.4" y1="146.6" x2="333.4" y2="182.6" stroke="#a6a6a6" stroke-width="0.7" /><line x1="336.3" y1="148.2" x2="336.3" y2="184.2" stroke="#a6a6a6" stroke-width="0.7" /><line x1="339.2" y1="149.9" x2="339.2" y2="185.9" stroke="#a6a6a6" stroke-width="0.7" /><line x1="342.1" y1="151.5" x2="342.1" y2="187.5" stroke="#a6a6a6" stroke-width="0.7" /><line x1="345.0" y1="153.2" x2="345.0" y2="189.2" stroke="#a6a6a6" stroke-width="0.7" /><line x1="347.9" y1="154.8" x2="347.9" y2="190.8" stroke="#a6a6a6" stroke-width="0.7" /><line x1="350.8" y1="156.4" x2="350.8" y2="192.4" stroke="#a6a6a6" stroke-width="0.7" /><line x1="353.7" y1="158.1" x2="353.7" y2="194.1" stroke="#a6a6a6" stroke-width="0.7" /><line x1="356.6" y1="159.7" x2="356.6" y2="195.7" stroke="#a6a6a6" stroke-width="0.7" /><line x1="359.5" y1="161.3" x2="359.5" y2="197.3" stroke="#a6a6a6" stroke-width="0.7" /><line x1="362.4" y1="163.0" x2="362.4" y2="199.0" stroke="#a6a6a6" stroke-width="0.7" /><line x1="365.4" y1="164.6" x2="365.4" y2="200.6" stroke="#a6a6a6" stroke-width="0.7" /><line x1="368.3" y1="166.2" x2="368.3" y2="202.2" stroke="#a6a6a6" stroke-width="0.7" /><line x1="371.2" y1="167.9" x2="371.2" y2="203.9" stroke="#a6a6a6" stroke-width="0.7" /><line x1="374.1" y1="169.5" x2="374.1" y2="205.5" stroke="#a6a6a6" stroke-width="0.7" /><line x1="377.0" y1="171.1" x2="377.0" y2="207.1" stroke="#a6a6a6" stroke-width="0.7" /><line x1="379.9" y1="172.8" x2="379.9" y2="208.8" stroke="#a6a6a6" stroke-width="0.7" /><polygon points="382.8,174.4 412.3,157.9 412.3,190.9 382.8,209.8" fill="#c6c6c6" /><polygon points="307.2,131.9 336.7,114.2 412.3,157.9 382.8,174.4" fill="#d0d0d0" /><polygon points="316.7,143.5 328.2,150.0 328.2,174.0 316.7,167.5" fill="#f4f4f4" stroke="#555555" stroke-width="0.8"/><polygon points="318.7,147.5 322.7,149.7 322.7,161.5 318.7,159.3" fill="#2a2a2a" /><polygon points="321.2,151.5 324.7,153.5 324.7,160.5 321.2,158.5" fill="#e45a3a" /><polygon points="320.9,151.0 322.9,152.1 322.9,159.0 320.9,157.9" fill="#f4f4f4" /><polygon points="333.5,153.0 346.0,160.0 346.0,184.0 333.5,177.0" fill="#f4f4f4" stroke="#555555" stroke-width="0.8"/><rect x="342.5" y="171.0" width="2.0" height="2.5" fill="#333333" /><polygon points="352.0,163.5 364.5,170.5 364.5,194.5 352.0,187.5" fill="#f4f4f4" stroke="#555555" stroke-width="0.8"/><rect x="361.0" y="181.5" width="2.0" height="2.5" fill="#333333" /><line x1="387.5" y1="171.0" x2="406.0" y2="160.6" stroke="#5c5c5c" stroke-width="1.5" /><line x1="387.5" y1="174.4" x2="406.0" y2="164.0" stroke="#5c5c5c" stroke-width="1.5" /><line x1="387.5" y1="177.8" x2="406.0" y2="167.4" stroke="#5c5c5c" stroke-width="1.5" /><line x1="387.5" y1="181.2" x2="406.0" y2="170.8" stroke="#5c5c5c" stroke-width="1.5" /><line x1="387.5" y1="184.6" x2="406.0" y2="174.2" stroke="#5c5c5c" stroke-width="1.5" /><line x1="387.5" y1="188.0" x2="406.0" y2="177.6" stroke="#5c5c5c" stroke-width="1.5" /><line x1="387.5" y1="191.4" x2="406.0" y2="181.0" stroke="#5c5c5c" stroke-width="1.5" /><line x1="387.5" y1="194.8" x2="406.0" y2="184.4" stroke="#5c5c5c" stroke-width="1.5" /><line x1="387.5" y1="198.2" x2="406.0" y2="187.8" stroke="#5c5c5c" stroke-width="1.5" /><polygon points="218.7,176.7 250.6,160.9 325.0,202.7 295.4,218.1" fill="#1c3878" /><polygon points="218.7,176.7 250.6,160.9 250.6,186.0 235.0,194.0" fill="#3a72c4" /><polygon points="250.6,160.9 325.0,202.7 325.0,215.0 250.6,173.0" fill="#20408a" /><polygon points="218.7,176.7 295.4,218.1 295.4,258.2 218.7,214.5" fill="#3a6fb8" /><line x1="222.2" y1="180.6" x2="222.2" y2="216.6" stroke="#33629f" stroke-width="0.7" /><line x1="225.7" y1="182.5" x2="225.7" y2="218.5" stroke="#33629f" stroke-width="0.7" /><line x1="229.2" y1="184.3" x2="229.2" y2="220.3" stroke="#33629f" stroke-width="0.7" /><line x1="232.6" y1="186.2" x2="232.6" y2="222.2" stroke="#33629f" stroke-width="0.7" /><line x1="236.1" y1="188.1" x2="236.1" y2="224.1" stroke="#33629f" stroke-width="0.7" /><line x1="239.6" y1="190.0" x2="239.6" y2="226.0" stroke="#33629f" stroke-width="0.7" /><line x1="243.1" y1="191.9" x2="243.1" y2="227.9" stroke="#33629f" stroke-width="0.7" /><line x1="246.6" y1="193.8" x2="246.6" y2="229.8" stroke="#33629f" stroke-width="0.7" /><line x1="250.1" y1="195.6" x2="250.1" y2="231.6" stroke="#33629f" stroke-width="0.7" /><line x1="253.6" y1="197.5" x2="253.6" y2="233.5" stroke="#33629f" stroke-width="0.7" /><line x1="257.0" y1="199.4" x2="257.0" y2="235.4" stroke="#33629f" stroke-width="0.7" /><line x1="260.5" y1="201.3" x2="260.5" y2="237.3" stroke="#33629f" stroke-width="0.7" /><line x1="264.0" y1="203.2" x2="264.0" y2="239.2" stroke="#33629f" stroke-width="0.7" /><line x1="267.5" y1="205.0" x2="267.5" y2="241.0" stroke="#33629f" stroke-width="0.7" /><line x1="271.0" y1="206.9" x2="271.0" y2="242.9" stroke="#33629f" stroke-width="0.7" /><line x1="274.5" y1="208.8" x2="274.5" y2="244.8" stroke="#33629f" stroke-width="0.7" /><line x1="278.0" y1="210.7" x2="278.0" y2="246.7" stroke="#33629f" stroke-width="0.7" /><line x1="281.5" y1="212.6" x2="281.5" y2="248.6" stroke="#33629f" stroke-width="0.7" /><line x1="284.9" y1="214.5" x2="284.9" y2="250.5" stroke="#33629f" stroke-width="0.7" /><line x1="288.4" y1="216.3" x2="288.4" y2="252.3" stroke="#33629f" stroke-width="0.7" /><line x1="291.9" y1="218.2" x2="291.9" y2="254.2" stroke="#33629f" stroke-width="0.7" /><polygon points="295.4,218.1 325.0,202.7 325.0,241.7 295.4,258.2" fill="#2f5c9f" /><line x1="218.7" y1="176.7" x2="295.4" y2="218.1" stroke="#6f9fe0" stroke-width="1" /><line x1="295.4" y1="218.1" x2="325.0" y2="202.7" stroke="#5a8bd0" stroke-width="1" /><path d="M243.0,197.0 v18 l12,-6 v-17 M247.0,195.0 v18 l12,-6" fill="none" stroke="#8793a3" stroke-width="1.1"/><path d="M273.0,214.0 v18 l12,-6 v-17 M277.0,212.0 v18 l12,-6" fill="none" stroke="#8793a3" stroke-width="1.1"/><line x1="234.0" y1="186.5" x2="297.0" y2="215.0" stroke="#d9d9d9" stroke-width="8.5" stroke-linecap="round"/><line x1="236.0" y1="185.5" x2="296.0" y2="212.5" stroke="#f3f3f3" stroke-width="3.5" stroke-linecap="round"/><line x1="258.0" y1="195.0" x2="280.0" y2="205.0" stroke="#ececec" stroke-width="11" stroke-linecap="butt"/><line x1="263.0" y1="194.0" x2="263.0" y2="203.0" stroke="#b8b8b8" stroke-width="1" /><line x1="270.0" y1="197.5" x2="270.0" y2="207.0" stroke="#b8b8b8" stroke-width="1" /><line x1="276.0" y1="200.0" x2="276.0" y2="210.0" stroke="#b8b8b8" stroke-width="1" /><circle cx="233.0" cy="186.0" r="3.0" fill="#e9c46a" /><path d="M267.5,193 L268.5,183.5 Q269.5,179.5 274.5,180 Q278,180.5 282,184 L303,201.5 Q305.5,204 305.4,208 L305.4,214" fill="none" stroke="#c8282a" stroke-width="2.2"/><line x1="306.0" y1="214.0" x2="306.0" y2="250.0" stroke="#9fb2cc" stroke-width="1.2" /><line x1="311.5" y1="211.0" x2="311.5" y2="247.0" stroke="#9fb2cc" stroke-width="1.2" /><line x1="300.0" y1="217.0" x2="300.0" y2="254.0" stroke="#24487f" stroke-width="0.8" /><line x1="318.0" y1="207.0" x2="318.0" y2="244.0" stroke="#24487f" stroke-width="0.8" /><rect x="240.0" y="226.5" width="3.0" height="1.6" fill="#1a1a1a" /><rect x="262.0" y="239.0" width="3.0" height="1.6" fill="#1a1a1a" /><line x1="121.9" y1="225.1" x2="206.9" y2="273.6" stroke="url(#gTank)" stroke-width="37.8" stroke-linecap="round"/><path d="M206.9,254.7 A18.9,18.9 0 0 1 206.9,292.5" fill="none" stroke="#d0d0d0" stroke-width="0" /><path d="M140.5,214.5 Q124.5,228.5 126.5,253.5 l9.5,3.4 Q134.5,231.5 148.5,218.9 Z" fill="#a9a9a9" /><polygon points="126.5,253.5 136.0,256.9 136.0,268.5 126.5,265.3" fill="#999999" /><polygon points="136.0,256.9 139.5,254.9 139.5,266.5 136.0,268.5" fill="#bdbdbd" /><path d="M180.5,237.5 Q164.5,251.5 166.0,276.5 l9.5,3.4 Q174.5,254.5 188.5,241.9 Z" fill="#a9a9a9" /><polygon points="166.0,276.5 175.5,279.9 175.5,291.5 166.0,288.3" fill="#999999" /><polygon points="175.5,279.9 179.0,277.9 179.0,289.5 175.5,291.5" fill="#bdbdbd" /><line x1="868.0" y1="230.0" x2="868.0" y2="274.0" stroke="#b7c3ce" stroke-width="1.6" /><line x1="880.0" y1="230.0" x2="880.0" y2="279.0" stroke="#b7c3ce" stroke-width="1.6" /><line x1="892.0" y1="230.0" x2="892.0" y2="279.0" stroke="#b7c3ce" stroke-width="1.6" /><line x1="903.0" y1="230.0" x2="903.0" y2="274.0" stroke="#b7c3ce" stroke-width="1.6" /><line x1="868.0" y1="274.0" x2="880.0" y2="280.0" stroke="#b7c3ce" stroke-width="1.6" /><line x1="880.0" y1="280.0" x2="892.0" y2="280.0" stroke="#b7c3ce" stroke-width="1.2" /><line x1="892.0" y1="280.0" x2="903.0" y2="274.0" stroke="#b7c3ce" stroke-width="1.6" /><line x1="868.0" y1="238.0" x2="880.0" y2="259.0" stroke="#c6d0d9" stroke-width="1" /><line x1="880.0" y1="241.0" x2="868.0" y2="256.0" stroke="#c6d0d9" stroke-width="1" /><line x1="892.0" y1="241.0" x2="903.0" y2="256.0" stroke="#c6d0d9" stroke-width="1" /><line x1="903.0" y1="238.0" x2="892.0" y2="259.0" stroke="#c6d0d9" stroke-width="1" /><line x1="880.0" y1="241.0" x2="892.0" y2="259.0" stroke="#aab6c2" stroke-width="1" /><line x1="892.0" y1="241.0" x2="880.0" y2="259.0" stroke="#aab6c2" stroke-width="1" /><line x1="868.0" y1="256.0" x2="880.0" y2="279.0" stroke="#c6d0d9" stroke-width="1" /><line x1="880.0" y1="259.0" x2="868.0" y2="276.0" stroke="#c6d0d9" stroke-width="1" /><line x1="892.0" y1="259.0" x2="903.0" y2="276.0" stroke="#c6d0d9" stroke-width="1" /><line x1="903.0" y1="256.0" x2="892.0" y2="279.0" stroke="#c6d0d9" stroke-width="1" /><line x1="880.0" y1="259.0" x2="892.0" y2="279.0" stroke="#aab6c2" stroke-width="1" /><line x1="892.0" y1="259.0" x2="880.0" y2="279.0" stroke="#aab6c2" stroke-width="1" /><line x1="868.0" y1="256.0" x2="880.0" y2="260.0" stroke="#b7c3ce" stroke-width="1.2" /><line x1="892.0" y1="260.0" x2="903.0" y2="256.0" stroke="#b7c3ce" stroke-width="1.2" /><line x1="880.0" y1="260.0" x2="892.0" y2="260.0" stroke="#b7c3ce" stroke-width="1" /><path d="M863.7,229 Q885.8,252 908,229 L900,240 Q885.8,249 871,240 Z" fill="#9a9a9a" /><path d="M863.7,176.7 L863.7,229.8 A22.2,11 0 0 0 908,229.8 L908,176.7 Z" fill="url(#gSilo)" /><path d="M862.7,228 A23.2,11.6 0 0 0 909,228" fill="none" stroke="#d9d9d9" stroke-width="2.2"/><ellipse cx="885.8" cy="176.7" rx="22.2" ry="11.0" fill="#dedede" /><line x1="897.5" y1="186.0" x2="897.5" y2="272.0" stroke="#d5d5d5" stroke-width="0.9" /><line x1="902.0" y1="184.0" x2="902.0" y2="270.0" stroke="#d5d5d5" stroke-width="0.9" /><line x1="897.5" y1="188.0" x2="902.0" y2="186.8" stroke="#d5d5d5" stroke-width="0.7" /><line x1="897.5" y1="191.8" x2="902.0" y2="190.6" stroke="#d5d5d5" stroke-width="0.7" /><line x1="897.5" y1="195.6" x2="902.0" y2="194.4" stroke="#d5d5d5" stroke-width="0.7" /><line x1="897.5" y1="199.4" x2="902.0" y2="198.2" stroke="#d5d5d5" stroke-width="0.7" /><line x1="897.5" y1="203.2" x2="902.0" y2="202.0" stroke="#d5d5d5" stroke-width="0.7" /><line x1="897.5" y1="207.0" x2="902.0" y2="205.8" stroke="#d5d5d5" stroke-width="0.7" /><line x1="897.5" y1="210.8" x2="902.0" y2="209.6" stroke="#d5d5d5" stroke-width="0.7" /><line x1="897.5" y1="214.6" x2="902.0" y2="213.4" stroke="#d5d5d5" stroke-width="0.7" /><line x1="897.5" y1="218.4" x2="902.0" y2="217.2" stroke="#d5d5d5" stroke-width="0.7" /><line x1="897.5" y1="222.2" x2="902.0" y2="221.0" stroke="#d5d5d5" stroke-width="0.7" /><line x1="897.5" y1="226.0" x2="902.0" y2="224.8" stroke="#d5d5d5" stroke-width="0.7" /><line x1="897.5" y1="229.8" x2="902.0" y2="228.6" stroke="#d5d5d5" stroke-width="0.7" /><line x1="897.5" y1="233.6" x2="902.0" y2="232.4" stroke="#d5d5d5" stroke-width="0.7" /><line x1="897.5" y1="237.4" x2="902.0" y2="236.2" stroke="#d5d5d5" stroke-width="0.7" /><line x1="897.5" y1="241.2" x2="902.0" y2="240.0" stroke="#d5d5d5" stroke-width="0.7" /><line x1="897.5" y1="245.0" x2="902.0" y2="243.8" stroke="#d5d5d5" stroke-width="0.7" /><line x1="897.5" y1="248.8" x2="902.0" y2="247.6" stroke="#d5d5d5" stroke-width="0.7" /><line x1="897.5" y1="252.6" x2="902.0" y2="251.4" stroke="#d5d5d5" stroke-width="0.7" /><line x1="897.5" y1="256.4" x2="902.0" y2="255.2" stroke="#d5d5d5" stroke-width="0.7" /><line x1="897.5" y1="260.2" x2="902.0" y2="259.0" stroke="#d5d5d5" stroke-width="0.7" /><line x1="897.5" y1="264.0" x2="902.0" y2="262.8" stroke="#d5d5d5" stroke-width="0.7" /><line x1="897.5" y1="267.8" x2="902.0" y2="266.6" stroke="#d5d5d5" stroke-width="0.7" /><line x1="826.0" y1="281.0" x2="862.0" y2="299.0" stroke="#55604a" stroke-width="1.4" /><line x1="832.0" y1="279.0" x2="868.0" y2="296.0" stroke="#55604a" stroke-width="1.2" /><line x1="838.0" y1="282.0" x2="838.0" y2="287.5" stroke="#55604a" stroke-width="1.2" /><line x1="850.0" y1="288.0" x2="850.0" y2="293.5" stroke="#55604a" stroke-width="1.2" /><line x1="860.0" y1="293.0" x2="860.0" y2="298.5" stroke="#55604a" stroke-width="1.2" /><path d="M788.5,259.3 L788.5,243 Q789,232 801,227.5 Q806,226 811,228.5 L846,249 L846,268 L829.8,281.4 Z" fill="#0a9fb0" /><path d="M788.5,243 Q789,232 801,227.5 Q806,226 811,228.5 L846,249 Q834,252 829.8,263 Z" fill="#14b7c4" /><polygon points="788.5,243.0 829.8,263.0 829.8,281.4 788.5,259.3" fill="#05a5b3" /><line x1="792.0" y1="248.0" x2="812.0" y2="258.0" stroke="#078896" stroke-width="0.9" /><line x1="792.0" y1="250.6" x2="812.0" y2="260.6" stroke="#078896" stroke-width="0.9" /><line x1="792.0" y1="253.2" x2="812.0" y2="263.2" stroke="#078896" stroke-width="0.9" /><line x1="792.0" y1="255.8" x2="812.0" y2="265.8" stroke="#078896" stroke-width="0.9" /><line x1="792.0" y1="258.4" x2="812.0" y2="268.4" stroke="#078896" stroke-width="0.9" /><line x1="792.0" y1="261.0" x2="812.0" y2="271.0" stroke="#078896" stroke-width="0.9" /><path d="M829.8,263 Q833,252 846,249 L846,268 L829.8,281.4 Z" fill="#0b8fa2" /><line x1="836.0" y1="268.0" x2="860.0" y2="280.0" stroke="#0eaebd" stroke-width="17" stroke-linecap="butt"/><line x1="838.0" y1="263.0" x2="861.0" y2="274.5" stroke="#35c3cf" stroke-width="4" /><ellipse cx="863.5" cy="281.5" rx="7.5" ry="9.5" fill="#3f86c4" /><ellipse cx="865.5" cy="281.0" rx="5.0" ry="7.5" fill="#5a9ad2" /><circle cx="847.0" cy="259.5" r="1.6" fill="#e8e0c8" /><circle cx="855.0" cy="263.0" r="1.6" fill="#e8e0c8" /><circle cx="873.5" cy="287.5" r="1.8" fill="#d9d9c0" /><line x1="752.0" y1="266.0" x2="818.0" y2="304.0" stroke="url(#gCream)" stroke-width="32" stroke-linecap="round"/><path d="M748.0,253.0 Q738.0,268.0 744.0,285.0 L744.0,294.0 L754.0,298.0 L754.0,289.0 Q747.0,271.0 758.0,257.0 Z" fill="#dccbb2" /><path d="M767.0,264.0 Q757.0,279.0 763.0,296.0 L763.0,305.0 L773.0,309.0 L773.0,300.0 Q766.0,282.0 777.0,268.0 Z" fill="#dccbb2" /><path d="M787.0,275.5 Q777.0,290.5 783.0,307.5 L783.0,316.5 L793.0,320.5 L793.0,311.5 Q786.0,293.5 797.0,279.5 Z" fill="#dccbb2" /><ellipse cx="822.0" cy="305.5" rx="9.5" ry="16.0" fill="#f8ecdc" /><ellipse cx="786.0" cy="262.5" rx="6.5" ry="4.0" fill="#e6d6be" /><ellipse cx="786.0" cy="260.5" rx="6.5" ry="4.0" fill="#f3e6d3" /><circle cx="768.0" cy="253.5" r="1.3" fill="#7a7a7a" /><circle cx="802.0" cy="272.5" r="1.3" fill="#7a7a7a" /><circle cx="818.0" cy="282.0" r="1.3" fill="#7a7a7a" /><line x1="641.5" y1="302.5" x2="673.5" y2="283.0" stroke="#2f60b4" stroke-width="6.2" stroke-linecap="round"/><line x1="647.5" y1="306.0" x2="679.5" y2="286.5" stroke="#2f60b4" stroke-width="6.2" stroke-linecap="round"/><line x1="653.5" y1="309.5" x2="685.5" y2="290.0" stroke="#2f60b4" stroke-width="6.2" stroke-linecap="round"/><line x1="659.5" y1="313.0" x2="691.5" y2="293.5" stroke="#2f60b4" stroke-width="6.2" stroke-linecap="round"/><line x1="665.5" y1="316.5" x2="697.5" y2="297.0" stroke="#2f60b4" stroke-width="6.2" stroke-linecap="round"/><line x1="671.0" y1="320.0" x2="703.0" y2="300.5" stroke="#2f60b4" stroke-width="6.2" stroke-linecap="round"/><line x1="643.0" y1="299.0" x2="675.0" y2="279.5" stroke="#3d78cf" stroke-width="6.2" stroke-linecap="round"/><line x1="644.0" y1="297.2" x2="675.0" y2="278.0" stroke="#5a90de" stroke-width="1.6" stroke-linecap="round"/><line x1="649.5" y1="302.5" x2="681.5" y2="283.0" stroke="#3d78cf" stroke-width="6.2" stroke-linecap="round"/><line x1="650.5" y1="300.7" x2="681.5" y2="281.5" stroke="#5a90de" stroke-width="1.6" stroke-linecap="round"/><line x1="662.0" y1="310.0" x2="694.0" y2="290.5" stroke="#3d78cf" stroke-width="6.2" stroke-linecap="round"/><line x1="663.0" y1="308.2" x2="694.0" y2="289.0" stroke="#5a90de" stroke-width="1.6" stroke-linecap="round"/><line x1="668.0" y1="313.5" x2="700.0" y2="294.0" stroke="#3d78cf" stroke-width="6.2" stroke-linecap="round"/><line x1="669.0" y1="311.7" x2="700.0" y2="292.5" stroke="#5a90de" stroke-width="1.6" stroke-linecap="round"/><ellipse cx="641.0" cy="302.8" rx="2.2" ry="2.9" fill="#2444a6" /><ellipse cx="647.0" cy="306.3" rx="2.2" ry="2.9" fill="#2444a6" /><ellipse cx="653.0" cy="309.8" rx="2.2" ry="2.9" fill="#2444a6" /><ellipse cx="659.0" cy="313.3" rx="2.2" ry="2.9" fill="#2444a6" /><ellipse cx="665.0" cy="316.8" rx="2.2" ry="2.9" fill="#2444a6" /><ellipse cx="670.5" cy="320.3" rx="2.2" ry="2.9" fill="#2444a6" /><ellipse cx="642.5" cy="299.3" rx="2.2" ry="2.9" fill="#2444a6" /><ellipse cx="649.0" cy="302.8" rx="2.2" ry="2.9" fill="#2444a6" /><ellipse cx="661.5" cy="310.3" rx="2.2" ry="2.9" fill="#2444a6" /><ellipse cx="667.5" cy="313.8" rx="2.2" ry="2.9" fill="#2444a6" /><polygon points="225.2,314.5 238.2,308.1 358.9,360.0 358.9,366.5 332.9,381.4 225.2,321.0" fill="#1f1f1f" /><polygon points="225.2,314.5 238.2,308.1 358.9,360.0 332.9,374.5" fill="#3c3c3e" /><polygon points="237.3,302.5 250.0,289.0 292.0,312.0 292.0,330.0 280.0,337.0 237.3,313.5" fill="#f2a81f" /><polygon points="237.3,302.5 250.0,289.0 292.0,312.0 280.0,320.0" fill="#fbc53a" /><line x1="241.0" y1="306.0" x2="241.0" y2="314.0" stroke="#c98512" stroke-width="1" /><line x1="245.2" y1="308.4" x2="245.2" y2="316.4" stroke="#c98512" stroke-width="1" /><line x1="249.4" y1="310.7" x2="249.4" y2="318.7" stroke="#c98512" stroke-width="1" /><line x1="253.6" y1="313.1" x2="253.6" y2="321.1" stroke="#c98512" stroke-width="1" /><line x1="257.8" y1="315.4" x2="257.8" y2="323.4" stroke="#c98512" stroke-width="1" /><line x1="262.0" y1="317.8" x2="262.0" y2="325.8" stroke="#c98512" stroke-width="1" /><line x1="266.2" y1="320.1" x2="266.2" y2="328.1" stroke="#c98512" stroke-width="1" /><line x1="270.4" y1="322.4" x2="270.4" y2="330.4" stroke="#c98512" stroke-width="1" /><line x1="274.6" y1="324.8" x2="274.6" y2="332.8" stroke="#c98512" stroke-width="1" /><line x1="278.8" y1="327.1" x2="278.8" y2="335.1" stroke="#c98512" stroke-width="1" /><line x1="238.0" y1="311.0" x2="300.0" y2="343.0" stroke="#d9d9d9" stroke-width="1.6" /><line x1="238.0" y1="314.5" x2="300.0" y2="346.5" stroke="#9a6a10" stroke-width="1.2" /><polygon points="250.3,297.8 258.6,293.6 291.0,312.2 281.5,316.6" fill="#4a4a4c" /><circle cx="254.0" cy="298.0" r="1.0" fill="#c9c9c9" /><circle cx="258.2" cy="295.9" r="1.0" fill="#c9c9c9" /><circle cx="257.7" cy="300.1" r="1.0" fill="#c9c9c9" /><circle cx="261.9" cy="297.9" r="1.0" fill="#c9c9c9" /><circle cx="261.4" cy="302.1" r="1.0" fill="#c9c9c9" /><circle cx="265.6" cy="300.0" r="1.0" fill="#c9c9c9" /><circle cx="265.1" cy="304.1" r="1.0" fill="#c9c9c9" /><circle cx="269.3" cy="302.0" r="1.0" fill="#c9c9c9" /><circle cx="268.8" cy="306.2" r="1.0" fill="#c9c9c9" /><circle cx="273.0" cy="304.1" r="1.0" fill="#c9c9c9" /><circle cx="272.5" cy="308.2" r="1.0" fill="#c9c9c9" /><circle cx="276.7" cy="306.1" r="1.0" fill="#c9c9c9" /><circle cx="276.2" cy="310.3" r="1.0" fill="#c9c9c9" /><circle cx="280.4" cy="308.2" r="1.0" fill="#c9c9c9" /><circle cx="279.9" cy="312.4" r="1.0" fill="#c9c9c9" /><circle cx="284.1" cy="310.2" r="1.0" fill="#c9c9c9" /><circle cx="283.6" cy="314.4" r="1.0" fill="#c9c9c9" /><circle cx="287.8" cy="312.3" r="1.0" fill="#c9c9c9" /><rect x="243.0" y="291.0" width="4.0" height="10.0" fill="#d9d9d9" /><circle cx="247.0" cy="290.0" r="2.6" fill="#f5b82e" /><ellipse cx="253.0" cy="287.5" rx="5.0" ry="3.5" fill="#fbc53a" /><circle cx="245.0" cy="294.0" r="1.3" fill="#c8282a" /><circle cx="238.5" cy="317.0" r="1.8" fill="#d0d0d0" /><circle cx="233.5" cy="311.5" r="1.5" fill="#9a9a9a" /><path d="M290,314 Q296,304 306,313 L318,327 L318,352 L296,341 L290,333 Z" fill="#f4ae24" /><ellipse cx="294.0" cy="317.0" rx="3.0" ry="2.0" fill="#cfd6dc" /><ellipse cx="303.0" cy="326.0" rx="5.2" ry="8.5" fill="#f2a81f" transform="rotate(25 303 326)"/><ellipse cx="304.3" cy="326.5" rx="3.6" ry="6.8" fill="#fdd247" transform="rotate(25 303 326)"/><ellipse cx="312.0" cy="321.0" rx="5.2" ry="8.5" fill="#f2a81f" transform="rotate(25 312 321)"/><ellipse cx="313.3" cy="321.5" rx="3.6" ry="6.8" fill="#fdd247" transform="rotate(25 312 321)"/><ellipse cx="321.0" cy="316.0" rx="5.2" ry="8.5" fill="#f2a81f" transform="rotate(25 321 316)"/><ellipse cx="322.3" cy="316.5" rx="3.6" ry="6.8" fill="#fdd247" transform="rotate(25 321 316)"/><polygon points="304.1,336.5 328.2,349.5 328.2,366.5 304.1,353.0" fill="#f4ae24" /><polygon points="304.1,336.5 324.5,325.7 348.6,337.7 328.2,349.5" fill="#fbc53a" /><polygon points="328.2,349.5 348.6,337.7 348.6,355.0 328.2,366.5" fill="#e9a01c" /><polygon points="306.0,336.0 323.5,327.0 331.5,331.0 314.0,340.2" fill="#bfbfbf" /><polygon points="318.5,342.5 336.0,333.2 346.5,338.2 329.0,347.8" fill="#bfbfbf" /><line x1="316.0" y1="343.0" x2="316.0" y2="360.0" stroke="#d08c14" stroke-width="0.8" /><circle cx="308.5" cy="346.5" r="2.2" fill="#e23a2a" /><circle cx="320.5" cy="352.5" r="2.2" fill="#e23a2a" /><circle cx="308.5" cy="346.5" r="0.9" fill="#ffffff" /><circle cx="320.5" cy="352.5" r="0.9" fill="#ffffff" /><line x1="336.0" y1="352.0" x2="347.0" y2="358.0" stroke="#f5a623" stroke-width="22" stroke-linecap="butt"/><ellipse cx="348.5" cy="358.5" rx="8.5" ry="11.5" fill="#ffd93b" /><rect x="293.0" y="343.0" width="2.5" height="4.0" fill="#9a9a9a" /><rect x="300.0" y="347.0" width="2.5" height="4.0" fill="#9a9a9a" /><path d="M320.2,245.2 L409.5,299.5 Q415.8,303 416.3,296 L417.3,272" fill="none" stroke="#c8201e" stroke-width="2.3" stroke-linejoin="round"/><line x1="369.0" y1="274.8" x2="376.5" y2="279.4" stroke="#f7d42a" stroke-width="2.3" /><line x1="416.9" y1="283.0" x2="417.2" y2="276.0" stroke="#f7b42a" stroke-width="2.3" /><polygon points="444.4,393.3 465.6,384.2 485.8,395.7 447.8,417.8" fill="#3a8a3e" /><polygon points="447.8,417.8 485.8,395.7 523.2,402.6 469.8,430.1" fill="#14552f" /><polygon points="541.1,405.0 567.8,393.6 601.7,417.8 580.8,432.1 523.2,402.6" fill="#14552f" /><polygon points="567.8,393.6 588.9,382.4 601.7,386.0 601.7,417.8" fill="#3a8a3e" /><polygon points="601.7,398.0 625.0,410.0 648.9,398.0 648.9,415.6 625.0,428.9 601.7,416.7" fill="#5cb848" opacity="0.7"/><polygon points="590.1,328.1 651.7,324.9 626.8,340.0 612.0,346.0" fill="#4caf50" /><polygon points="567.2,315.7 631.4,311.8 654.4,324.2 587.5,327.5" fill="url(#gRamp)" /><line x1="567.2" y1="315.7" x2="654.4" y2="324.2" stroke="#dfeaf5" stroke-width="1" /><line x1="587.5" y1="327.8" x2="654.4" y2="324.6" stroke="#8a8f96" stroke-width="1" /><line x1="601.7" y1="376.7" x2="601.7" y2="416.7" stroke="#b4c0cb" stroke-width="2" /><line x1="625.0" y1="388.9" x2="625.0" y2="428.9" stroke="#b4c0cb" stroke-width="2" /><line x1="648.9" y1="375.6" x2="648.9" y2="415.6" stroke="#b4c0cb" stroke-width="2" /><line x1="601.7" y1="396.7" x2="625.0" y2="408.9" stroke="#b4c0cb" stroke-width="1.5" /><line x1="625.0" y1="408.9" x2="648.9" y2="395.6" stroke="#b4c0cb" stroke-width="1.5" /><line x1="601.7" y1="416.7" x2="625.0" y2="428.9" stroke="#b4c0cb" stroke-width="1.5" /><line x1="625.0" y1="428.9" x2="648.9" y2="415.6" stroke="#b4c0cb" stroke-width="1.5" /><line x1="601.7" y1="376.7" x2="625.0" y2="408.9" stroke="#b4c0cb" stroke-width="1.5" /><line x1="601.7" y1="396.7" x2="625.0" y2="388.9" stroke="#b4c0cb" stroke-width="1.5" /><line x1="601.7" y1="396.7" x2="625.0" y2="428.9" stroke="#b4c0cb" stroke-width="1.5" /><line x1="601.7" y1="416.7" x2="625.0" y2="408.9" stroke="#b4c0cb" stroke-width="1.5" /><line x1="625.0" y1="388.9" x2="648.9" y2="395.6" stroke="#b4c0cb" stroke-width="1.5" /><line x1="625.0" y1="408.9" x2="648.9" y2="375.6" stroke="#b4c0cb" stroke-width="1.5" /><line x1="625.0" y1="408.9" x2="648.9" y2="415.6" stroke="#b4c0cb" stroke-width="1.5" /><line x1="625.0" y1="428.9" x2="648.9" y2="395.6" stroke="#b4c0cb" stroke-width="1.5" /><line x1="613.0" y1="372.0" x2="613.0" y2="408.0" stroke="#8fa09f" stroke-width="1.2" /><line x1="637.0" y1="372.0" x2="637.0" y2="408.0" stroke="#8fa09f" stroke-width="1.2" /><line x1="604.0" y1="384.0" x2="622.0" y2="420.0" stroke="#4f5d57" stroke-width="1.2" /><line x1="628.0" y1="394.0" x2="646.0" y2="412.0" stroke="#4f5d57" stroke-width="1.2" /><line x1="605.0" y1="400.0" x2="623.0" y2="386.0" stroke="#4f5d57" stroke-width="1.1" /><line x1="628.0" y1="386.0" x2="646.0" y2="398.0" stroke="#4f5d57" stroke-width="1.1" /><line x1="452.0" y1="372.0" x2="452.0" y2="400.0" stroke="#b4c0cb" stroke-width="1.6" /><line x1="462.0" y1="378.0" x2="462.0" y2="410.0" stroke="#b4c0cb" stroke-width="1.6" /><line x1="452.0" y1="374.0" x2="462.0" y2="398.0" stroke="#b4c0cb" stroke-width="1" /><line x1="462.0" y1="380.0" x2="452.0" y2="396.0" stroke="#b4c0cb" stroke-width="1" /><path d="M446,386 L462,408 M446,410 L464,384 M464,384 L464,414" fill="none" stroke="#6b7f3a" stroke-width="1" opacity="0.7"/><polygon points="412.0,347.0 524.0,408.7 524.0,416.2 412.0,354.5" fill="#a9b5c1" /><polygon points="524.0,408.7 601.7,369.0 601.7,376.5 524.0,416.2" fill="#bcc6cf" /><polygon points="601.7,369.0 625.0,380.5 625.0,388.0 601.7,376.5" fill="#a9b5c1" /><polygon points="625.0,380.5 649.4,366.1 649.4,373.6 625.0,388.0" fill="#bcc6cf" /><polygon points="412.0,347.0 524.0,408.7 601.7,369.0 625.0,380.5 649.4,366.1 530.0,288.0" fill="#9c9d9f" /><polygon points="481.9,352.7 521.3,333.0 566.9,349.6 525.4,374.5" fill="#5f6062" /><line x1="445.6" y1="358.6" x2="507.0" y2="392.4" stroke="#e9eef2" stroke-width="1" /><line x1="445.6" y1="362.1" x2="507.0" y2="395.9" stroke="#e9eef2" stroke-width="0.8" /><line x1="445.6" y1="365.6" x2="445.6" y2="358.6" stroke="#e9eef2" stroke-width="1" /><line x1="457.9" y1="372.4" x2="457.9" y2="365.4" stroke="#e9eef2" stroke-width="1" /><line x1="470.2" y1="379.1" x2="470.2" y2="372.1" stroke="#e9eef2" stroke-width="1" /><line x1="482.4" y1="385.9" x2="482.4" y2="378.9" stroke="#e9eef2" stroke-width="1" /><line x1="494.7" y1="392.6" x2="494.7" y2="385.6" stroke="#e9eef2" stroke-width="1" /><line x1="507.0" y1="399.4" x2="507.0" y2="392.4" stroke="#e9eef2" stroke-width="1" /><line x1="543.0" y1="392.0" x2="598.0" y2="364.0" stroke="#e9eef2" stroke-width="1" /><line x1="543.0" y1="395.5" x2="598.0" y2="367.5" stroke="#e9eef2" stroke-width="0.8" /><line x1="543.0" y1="399.0" x2="543.0" y2="392.0" stroke="#e9eef2" stroke-width="1" /><line x1="556.8" y1="392.0" x2="556.8" y2="385.0" stroke="#e9eef2" stroke-width="1" /><line x1="570.5" y1="385.0" x2="570.5" y2="378.0" stroke="#e9eef2" stroke-width="1" /><line x1="584.2" y1="378.0" x2="584.2" y2="371.0" stroke="#e9eef2" stroke-width="1" /><line x1="598.0" y1="371.0" x2="598.0" y2="364.0" stroke="#e9eef2" stroke-width="1" /><line x1="601.7" y1="362.0" x2="625.0" y2="373.5" stroke="#e9eef2" stroke-width="1" /><line x1="601.7" y1="365.5" x2="625.0" y2="377.0" stroke="#e9eef2" stroke-width="0.8" /><line x1="601.7" y1="369.0" x2="601.7" y2="362.0" stroke="#e9eef2" stroke-width="1" /><line x1="613.4" y1="374.8" x2="613.4" y2="367.8" stroke="#e9eef2" stroke-width="1" /><line x1="625.0" y1="380.5" x2="625.0" y2="373.5" stroke="#e9eef2" stroke-width="1" /><line x1="625.0" y1="373.5" x2="649.4" y2="359.1" stroke="#e9eef2" stroke-width="1" /><line x1="625.0" y1="377.0" x2="649.4" y2="362.6" stroke="#e9eef2" stroke-width="0.8" /><line x1="625.0" y1="380.5" x2="625.0" y2="373.5" stroke="#e9eef2" stroke-width="1" /><line x1="637.2" y1="373.3" x2="637.2" y2="366.3" stroke="#e9eef2" stroke-width="1" /><line x1="649.4" y1="366.1" x2="649.4" y2="359.1" stroke="#e9eef2" stroke-width="1" /><line x1="540.0" y1="296.0" x2="590.0" y2="321.0" stroke="#e9eef2" stroke-width="1" /><line x1="540.0" y1="299.5" x2="590.0" y2="324.5" stroke="#e9eef2" stroke-width="0.8" /><line x1="540.0" y1="303.0" x2="540.0" y2="296.0" stroke="#e9eef2" stroke-width="1" /><line x1="552.5" y1="309.2" x2="552.5" y2="302.2" stroke="#e9eef2" stroke-width="1" /><line x1="565.0" y1="315.5" x2="565.0" y2="308.5" stroke="#e9eef2" stroke-width="1" /><line x1="577.5" y1="321.8" x2="577.5" y2="314.8" stroke="#e9eef2" stroke-width="1" /><line x1="590.0" y1="328.0" x2="590.0" y2="321.0" stroke="#e9eef2" stroke-width="1" /><line x1="592.0" y1="323.0" x2="649.4" y2="359.1" stroke="#e9eef2" stroke-width="1" /><line x1="592.0" y1="326.5" x2="649.4" y2="362.6" stroke="#e9eef2" stroke-width="0.8" /><line x1="592.0" y1="330.0" x2="592.0" y2="323.0" stroke="#e9eef2" stroke-width="1" /><line x1="606.4" y1="339.0" x2="606.4" y2="332.0" stroke="#e9eef2" stroke-width="1" /><line x1="620.7" y1="348.1" x2="620.7" y2="341.1" stroke="#e9eef2" stroke-width="1" /><line x1="635.0" y1="357.1" x2="635.0" y2="350.1" stroke="#e9eef2" stroke-width="1" /><line x1="649.4" y1="366.1" x2="649.4" y2="359.1" stroke="#e9eef2" stroke-width="1" /><line x1="438.0" y1="329.0" x2="462.0" y2="315.0" stroke="#e9eef2" stroke-width="1" /><line x1="438.0" y1="332.5" x2="462.0" y2="318.5" stroke="#e9eef2" stroke-width="0.8" /><line x1="438.0" y1="336.0" x2="438.0" y2="329.0" stroke="#e9eef2" stroke-width="1" /><line x1="450.0" y1="329.0" x2="450.0" y2="322.0" stroke="#e9eef2" stroke-width="1" /><line x1="462.0" y1="322.0" x2="462.0" y2="315.0" stroke="#e9eef2" stroke-width="1" /><polygon points="448.7,333.0 492.2,305.0 509.9,314.3 469.4,341.3" fill="#3d7bd0" /><polygon points="448.7,333.0 469.4,341.3 469.4,345.5 448.7,337.0" fill="#2a5ca8" /><polygon points="469.4,341.3 509.9,314.3 509.9,318.5 469.4,345.5" fill="#3268b8" /><path d="M459.3,330.7 v-9 a7,7 0 0 1 14,-3 v11 l-7,4 Z" fill="#1e4a9a" /><ellipse cx="465.3" cy="325.7" rx="3.6" ry="5.0" fill="#2f63bd" /><ellipse cx="465.3" cy="326.2" rx="1.8" ry="2.8" fill="#142f66" /><path d="M473.8,322.4 v-9 a7,7 0 0 1 14,-3 v11 l-7,4 Z" fill="#1e4a9a" /><ellipse cx="479.8" cy="317.4" rx="3.6" ry="5.0" fill="#2f63bd" /><ellipse cx="479.8" cy="317.9" rx="1.8" ry="2.8" fill="#142f66" /><polygon points="490.0,301.0 503.0,294.0 510.0,298.0 510.0,312.0 497.0,319.0 490.0,315.0" fill="#1e4a9a" /><polygon points="497.0,305.0 510.0,298.0 510.0,312.0 497.0,319.0" fill="#173c80" /><circle cx="474.5" cy="333.5" r="1.3" fill="#e23a2a" /><path d="M558.5,362 a6.5,6.5 0 0 1 12,-2 v9 l-6,3 l-6,-3 Z" fill="#1e4fb0" /><ellipse cx="561.5" cy="366.0" rx="2.4" ry="3.0" fill="#0d1f4a" /><ellipse cx="568.0" cy="369.0" rx="1.5" ry="2.0" fill="#0d1f4a" /><polygon points="520.5,376.6 524.4,374.6 528.3,376.6 524.4,378.8" fill="#6b6b6d" /><line x1="371.5" y1="354.0" x2="371.5" y2="399.0" stroke="#aab8c5" stroke-width="2" /><line x1="395.0" y1="367.0" x2="395.0" y2="413.5" stroke="#aab8c5" stroke-width="2" /><line x1="419.0" y1="380.0" x2="419.0" y2="428.0" stroke="#aab8c5" stroke-width="2" /><line x1="442.0" y1="368.0" x2="442.0" y2="416.0" stroke="#aab8c5" stroke-width="2" /><line x1="384.0" y1="362.0" x2="384.0" y2="392.0" stroke="#8fa09f" stroke-width="1.2" /><line x1="407.0" y1="375.0" x2="407.0" y2="405.0" stroke="#8fa09f" stroke-width="1.2" /><line x1="431.0" y1="373.0" x2="431.0" y2="409.0" stroke="#8fa09f" stroke-width="1.2" /><line x1="371.5" y1="376.0" x2="419.0" y2="404.0" stroke="#aab8c5" stroke-width="1.6" /><line x1="419.0" y1="404.0" x2="442.0" y2="391.0" stroke="#aab8c5" stroke-width="1.6" /><line x1="371.5" y1="399.0" x2="419.0" y2="427.0" stroke="#aab8c5" stroke-width="1.6" /><line x1="419.0" y1="427.0" x2="442.0" y2="414.0" stroke="#aab8c5" stroke-width="1.6" /><line x1="371.5" y1="356.0" x2="395.0" y2="390.0" stroke="#aab8c5" stroke-width="1.5" /><line x1="371.5" y1="377.0" x2="395.0" y2="369.0" stroke="#aab8c5" stroke-width="1.5" /><line x1="395.0" y1="369.0" x2="419.0" y2="403.0" stroke="#aab8c5" stroke-width="1.5" /><line x1="395.0" y1="390.0" x2="419.0" y2="382.0" stroke="#aab8c5" stroke-width="1.5" /><line x1="371.5" y1="378.0" x2="395.0" y2="412.0" stroke="#aab8c5" stroke-width="1.5" /><line x1="371.5" y1="399.0" x2="395.0" y2="391.0" stroke="#aab8c5" stroke-width="1.5" /><line x1="395.0" y1="391.0" x2="419.0" y2="426.0" stroke="#aab8c5" stroke-width="1.5" /><line x1="395.0" y1="413.0" x2="419.0" y2="404.0" stroke="#aab8c5" stroke-width="1.5" /><line x1="419.0" y1="382.0" x2="442.0" y2="391.0" stroke="#aab8c5" stroke-width="1.5" /><line x1="419.0" y1="403.0" x2="442.0" y2="370.0" stroke="#aab8c5" stroke-width="1.5" /><line x1="419.0" y1="404.0" x2="442.0" y2="414.0" stroke="#aab8c5" stroke-width="1.5" /><line x1="419.0" y1="426.0" x2="442.0" y2="392.0" stroke="#aab8c5" stroke-width="1.5" /><line x1="374.0" y1="360.0" x2="392.0" y2="388.0" stroke="#4f5d57" stroke-width="1" /><line x1="398.0" y1="372.0" x2="416.0" y2="402.0" stroke="#4f5d57" stroke-width="1" /><line x1="376.0" y1="384.0" x2="393.0" y2="408.0" stroke="#4f5d57" stroke-width="1" /><line x1="399.0" y1="396.0" x2="417.0" y2="424.0" stroke="#4f5d57" stroke-width="1" /><polygon points="369.1,326.6 418.2,353.5 418.2,379.5 369.1,353.5" fill="#d9d5c9" /><polygon points="418.2,353.5 443.3,334.0 443.3,368.4 418.2,379.5" fill="#f2ede2" /><polygon points="369.1,326.6 394.1,306.2 443.3,334.0 418.2,353.5" fill="#5e93d4" /><polygon points="379.3,338.5 388.6,343.6 388.6,356.6 379.3,351.5" fill="#f4f8fb" /><polygon points="380.6,340.5 387.3,344.2 387.3,354.6 380.6,350.9" fill="#2ea3e6" /><line x1="383.9" y1="342.1" x2="383.9" y2="353.1" stroke="#d7ecfa" stroke-width="0.9" /><line x1="380.3" y1="345.0" x2="387.6" y2="350.1" stroke="#d7ecfa" stroke-width="0.9" /><polygon points="399.7,350.0 409.0,355.1 409.0,368.1 399.7,363.0" fill="#f4f8fb" /><polygon points="401.0,352.0 407.7,355.7 407.7,366.1 401.0,362.4" fill="#2ea3e6" /><line x1="404.3" y1="353.6" x2="404.3" y2="364.6" stroke="#d7ecfa" stroke-width="0.9" /><line x1="400.7" y1="356.5" x2="408.0" y2="361.6" stroke="#d7ecfa" stroke-width="0.9" /><line x1="524.6" y1="168.0" x2="524.6" y2="300.0" stroke="#8b8b8d" stroke-width="4.5" /><line x1="519.2" y1="168.0" x2="519.2" y2="224.0" stroke="#3c3c3c" stroke-width="0.8" /><line x1="531.7" y1="168.0" x2="531.7" y2="222.0" stroke="#3c3c3c" stroke-width="0.8" /><polygon points="486.0,279.0 524.4,258.3 564.9,277.0 525.4,298.8" fill="#d9541e" /><polygon points="506.8,277.5 523.4,269.7 543.1,278.0 525.4,286.8" fill="#8bba3f" /><polygon points="486.0,279.0 525.4,298.8 564.9,277.0 564.9,280.0 525.4,302.0 486.0,282.0" fill="#b8431a" /><line x1="486.0" y1="271.0" x2="524.4" y2="250.3" stroke="#f07a3a" stroke-width="1" /><line x1="486.0" y1="279.0" x2="486.0" y2="271.0" stroke="#f07a3a" stroke-width="0.9" /><line x1="490.8" y1="276.4" x2="490.8" y2="268.4" stroke="#f07a3a" stroke-width="0.9" /><line x1="495.6" y1="273.8" x2="495.6" y2="265.8" stroke="#f07a3a" stroke-width="0.9" /><line x1="500.4" y1="271.2" x2="500.4" y2="263.2" stroke="#f07a3a" stroke-width="0.9" /><line x1="505.2" y1="268.6" x2="505.2" y2="260.6" stroke="#f07a3a" stroke-width="0.9" /><line x1="510.0" y1="266.1" x2="510.0" y2="258.1" stroke="#f07a3a" stroke-width="0.9" /><line x1="514.8" y1="263.5" x2="514.8" y2="255.5" stroke="#f07a3a" stroke-width="0.9" /><line x1="519.6" y1="260.9" x2="519.6" y2="252.9" stroke="#f07a3a" stroke-width="0.9" /><line x1="524.4" y1="258.3" x2="524.4" y2="250.3" stroke="#f07a3a" stroke-width="0.9" /><line x1="524.4" y1="250.3" x2="564.9" y2="269.0" stroke="#f07a3a" stroke-width="1" /><line x1="524.4" y1="258.3" x2="524.4" y2="250.3" stroke="#f07a3a" stroke-width="0.9" /><line x1="529.5" y1="260.6" x2="529.5" y2="252.6" stroke="#f07a3a" stroke-width="0.9" /><line x1="534.5" y1="263.0" x2="534.5" y2="255.0" stroke="#f07a3a" stroke-width="0.9" /><line x1="539.6" y1="265.3" x2="539.6" y2="257.3" stroke="#f07a3a" stroke-width="0.9" /><line x1="544.6" y1="267.6" x2="544.6" y2="259.6" stroke="#f07a3a" stroke-width="0.9" /><line x1="549.7" y1="270.0" x2="549.7" y2="262.0" stroke="#f07a3a" stroke-width="0.9" /><line x1="554.8" y1="272.3" x2="554.8" y2="264.3" stroke="#f07a3a" stroke-width="0.9" /><line x1="559.8" y1="274.7" x2="559.8" y2="266.7" stroke="#f07a3a" stroke-width="0.9" /><line x1="564.9" y1="277.0" x2="564.9" y2="269.0" stroke="#f07a3a" stroke-width="0.9" /><path d="M430,265.6 L491.5,299.4 Q497,302.5 501,300 L516,291" fill="none" stroke="#c8201e" stroke-width="2.3" stroke-linejoin="round"/><line x1="474.5" y1="290.0" x2="482.5" y2="294.4" stroke="#f7d42a" stroke-width="2.3" /><line x1="501.5" y1="299.7" x2="509.0" y2="295.1" stroke="#f7d42a" stroke-width="2.3" /><polygon points="505.6,162.0 510.0,162.0 482.6,352.5 477.4,350.0" fill="#8b8b8d" /><polygon points="510.0,162.0 512.4,163.0 486.0,354.0 482.6,352.5" fill="#5e5e60" /><polygon points="537.0,163.0 541.6,163.0 569.2,349.0 564.2,351.0" fill="#8b8b8d" /><polygon points="534.8,164.0 537.0,163.0 564.2,351.0 561.4,349.5" fill="#6c6c6e" /><line x1="486.0" y1="271.0" x2="525.4" y2="290.8" stroke="#f07a3a" stroke-width="1" /><line x1="486.0" y1="279.0" x2="486.0" y2="271.0" stroke="#f07a3a" stroke-width="0.9" /><line x1="490.9" y1="281.5" x2="490.9" y2="273.5" stroke="#f07a3a" stroke-width="0.9" /><line x1="495.9" y1="283.9" x2="495.9" y2="275.9" stroke="#f07a3a" stroke-width="0.9" /><line x1="500.8" y1="286.4" x2="500.8" y2="278.4" stroke="#f07a3a" stroke-width="0.9" /><line x1="505.7" y1="288.9" x2="505.7" y2="280.9" stroke="#f07a3a" stroke-width="0.9" /><line x1="510.6" y1="291.4" x2="510.6" y2="283.4" stroke="#f07a3a" stroke-width="0.9" /><line x1="515.5" y1="293.9" x2="515.5" y2="285.9" stroke="#f07a3a" stroke-width="0.9" /><line x1="520.5" y1="296.3" x2="520.5" y2="288.3" stroke="#f07a3a" stroke-width="0.9" /><line x1="525.4" y1="298.8" x2="525.4" y2="290.8" stroke="#f07a3a" stroke-width="0.9" /><line x1="525.4" y1="290.8" x2="564.9" y2="269.0" stroke="#f07a3a" stroke-width="1" /><line x1="525.4" y1="298.8" x2="525.4" y2="290.8" stroke="#f07a3a" stroke-width="0.9" /><line x1="530.3" y1="296.1" x2="530.3" y2="288.1" stroke="#f07a3a" stroke-width="0.9" /><line x1="535.3" y1="293.4" x2="535.3" y2="285.4" stroke="#f07a3a" stroke-width="0.9" /><line x1="540.2" y1="290.6" x2="540.2" y2="282.6" stroke="#f07a3a" stroke-width="0.9" /><line x1="545.1" y1="287.9" x2="545.1" y2="279.9" stroke="#f07a3a" stroke-width="0.9" /><line x1="550.1" y1="285.2" x2="550.1" y2="277.2" stroke="#f07a3a" stroke-width="0.9" /><line x1="555.0" y1="282.4" x2="555.0" y2="274.4" stroke="#f07a3a" stroke-width="0.9" /><line x1="560.0" y1="279.7" x2="560.0" y2="271.7" stroke="#f07a3a" stroke-width="0.9" /><line x1="564.9" y1="277.0" x2="564.9" y2="269.0" stroke="#f07a3a" stroke-width="0.9" /><polygon points="505.7,155.5 524.4,145.0 544.1,155.5 525.4,170.5" fill="#f26b21" /><polygon points="505.7,155.5 525.4,170.5 544.1,155.5 544.1,158.5 525.4,173.5 505.7,158.5" fill="#c9501a" /><line x1="505.7" y1="150.5" x2="525.4" y2="165.5" stroke="#f58a3c" stroke-width="0.9" /><line x1="505.7" y1="155.5" x2="505.7" y2="150.5" stroke="#f58a3c" stroke-width="0.8" /><line x1="509.6" y1="158.5" x2="509.6" y2="153.5" stroke="#f58a3c" stroke-width="0.8" /><line x1="513.6" y1="161.5" x2="513.6" y2="156.5" stroke="#f58a3c" stroke-width="0.8" /><line x1="517.5" y1="164.5" x2="517.5" y2="159.5" stroke="#f58a3c" stroke-width="0.8" /><line x1="521.5" y1="167.5" x2="521.5" y2="162.5" stroke="#f58a3c" stroke-width="0.8" /><line x1="525.4" y1="170.5" x2="525.4" y2="165.5" stroke="#f58a3c" stroke-width="0.8" /><line x1="525.4" y1="165.5" x2="544.1" y2="150.5" stroke="#f58a3c" stroke-width="0.9" /><line x1="525.4" y1="170.5" x2="525.4" y2="165.5" stroke="#f58a3c" stroke-width="0.8" /><line x1="529.1" y1="167.5" x2="529.1" y2="162.5" stroke="#f58a3c" stroke-width="0.8" /><line x1="532.9" y1="164.5" x2="532.9" y2="159.5" stroke="#f58a3c" stroke-width="0.8" /><line x1="536.6" y1="161.5" x2="536.6" y2="156.5" stroke="#f58a3c" stroke-width="0.8" /><line x1="540.4" y1="158.5" x2="540.4" y2="153.5" stroke="#f58a3c" stroke-width="0.8" /><line x1="544.1" y1="155.5" x2="544.1" y2="150.5" stroke="#f58a3c" stroke-width="0.8" /><line x1="505.7" y1="150.5" x2="524.4" y2="140.0" stroke="#f58a3c" stroke-width="0.9" /><line x1="505.7" y1="155.5" x2="505.7" y2="150.5" stroke="#f58a3c" stroke-width="0.8" /><line x1="509.4" y1="153.4" x2="509.4" y2="148.4" stroke="#f58a3c" stroke-width="0.8" /><line x1="513.2" y1="151.3" x2="513.2" y2="146.3" stroke="#f58a3c" stroke-width="0.8" /><line x1="516.9" y1="149.2" x2="516.9" y2="144.2" stroke="#f58a3c" stroke-width="0.8" /><line x1="520.7" y1="147.1" x2="520.7" y2="142.1" stroke="#f58a3c" stroke-width="0.8" /><line x1="524.4" y1="145.0" x2="524.4" y2="140.0" stroke="#f58a3c" stroke-width="0.8" /><line x1="524.4" y1="140.0" x2="544.1" y2="150.5" stroke="#f58a3c" stroke-width="0.9" /><line x1="524.4" y1="145.0" x2="524.4" y2="140.0" stroke="#f58a3c" stroke-width="0.8" /><line x1="528.3" y1="147.1" x2="528.3" y2="142.1" stroke="#f58a3c" stroke-width="0.8" /><line x1="532.3" y1="149.2" x2="532.3" y2="144.2" stroke="#f58a3c" stroke-width="0.8" /><line x1="536.2" y1="151.3" x2="536.2" y2="146.3" stroke="#f58a3c" stroke-width="0.8" /><line x1="540.2" y1="153.4" x2="540.2" y2="148.4" stroke="#f58a3c" stroke-width="0.8" /><line x1="544.1" y1="155.5" x2="544.1" y2="150.5" stroke="#f58a3c" stroke-width="0.8" /><polygon points="513.5,148.0 525.4,154.5 525.4,165.0 513.5,158.0" fill="#d92b1f" /><polygon points="525.4,154.5 537.5,147.5 537.5,157.5 525.4,165.0" fill="#c0251a" /><polygon points="513.5,148.0 525.4,141.0 537.5,147.5 525.4,154.5" fill="#ea4a32" /><polygon points="528.0,155.5 534.5,152.0 534.5,158.0 528.0,162.0" fill="#f5a030" /><rect x="528.5" y="143.0" width="5.0" height="2.0" fill="#6b6b6b" /><path d="M519,219 L531.5,215.5 L532.5,226 L527,236.5 L522.5,236.5 L518.5,227 Z" fill="#c9c9c9" /><path d="M519,219 L531.5,215.5 L531.8,218.5 L519.3,222 Z" fill="#4a4a4a" /><path d="M522.2,238 a2.6,2.6 0 1 0 5,0" fill="none" stroke="#f5a623" stroke-width="2"/><path d="M492.4,470 L492.4,466 Q494,453 522.3,452.6 Q550.5,453 552.3,466 L552.3,470 Z" fill="#cdb793" /><rect x="492.4" y="469.0" width="59.9" height="81.0" fill="#ffffff" /><rect x="496.4" y="549.0" width="51.3" height="119.0" fill="#ffffff" /><rect x="505.0" y="658.0" width="34.8" height="254.0" fill="#ffffff" /><path d="M503.1,668 L503.1,472 Q503.1,459.5 522.6,459.5 Q542.2,459.5 542.2,472 L542.2,668 Z" fill="#211f1d" /><path d="M511.7,660 L533.7,660 L533.7,902 L529.3,906 L529.3,916 L515.5,916 L515.5,906 L511.7,902 Z" fill="#211f1d" /><polygon points="518.6,478.0 526.2,478.0 526.2,483.0 522.4,486.5 518.6,483.0" fill="#0c0b0b" /><rect x="521.1" y="485.8" width="2.6" height="254.0" fill="url(#gLine)" /><rect x="509.5" y="212.0" width="31.0" height="70.0" fill="url(#gArrowFade)" filter="url(#fBlurA)"/><rect x="510.0" y="270.0" width="30.0" height="67.0" fill="#ffffff" /><rect x="510.0" y="336.0" width="30.0" height="88.0" fill="url(#gArrowMid)" /><polygon points="494.3,336.1 556.6,336.1 525.4,374.5" fill="url(#gArrowHead)" /><polygon points="496.3,422.2 556.2,422.2 525.8,456.6" fill="#ffffff" /><line x1="523.0" y1="243.0" x2="519.5" y2="279.0" stroke="#d5d5d5" stroke-width="1.2" /><line x1="526.5" y1="243.0" x2="531.5" y2="279.0" stroke="#d5d5d5" stroke-width="1.2" /><line x1="523.0" y1="243.0" x2="519.5" y2="279.0" stroke="#6b6b6b" stroke-width="0.5" /><line x1="526.5" y1="243.0" x2="531.5" y2="279.0" stroke="#6b6b6b" stroke-width="0.5" /><polygon points="517.0,280.5 525.0,276.5 533.0,280.5 533.0,293.5 528.0,297.5 520.0,297.5 517.0,293.5" fill="#dcdcdc" /><polygon points="517.0,280.5 525.0,284.5 525.0,297.5 520.0,297.5 517.0,293.5" fill="#bdbdbd" /><rect x="521.0" y="277.0" width="6.0" height="3.5" fill="#3c3c3c" /><rect x="523.3" y="297.5" width="3.0" height="9.0" fill="#9a9a9a" /><path d="M521.5,311.5 h6 l1.5,4 l-2.5,5.5 h-4 l-2.5,-5.5 Z" fill="#1a1a1a" /><rect x="523.6" y="326.5" width="1.8" height="16.0" fill="#e03a30" /><ellipse cx="524.4" cy="348.0" rx="12.4" ry="5.6" fill="#e8282a" /><ellipse cx="524.4" cy="346.8" rx="5.2" ry="2.4" fill="#b81c20" /><path d="M520.8,346 v-3.5 a3.6,1.6 0 0 1 7.2,0 v3.5 a3.6,1.6 0 0 1 -7.2,0 Z" fill="#f04a40" /><path d="M517.9000000000001,392.8 Q526.7,390.6 535.5,392.8 L534.9000000000001,396 L531.7,402.5 L531.7,405 L538.5,407.3 L531.7,409.90000000000003 L538.5,413.2 L531.7,415.8 L538.5,419.1 L531.7,421.70000000000005 L538.5,424.6 L531.7,427.20000000000005 L531.7,430 L533.2,434 L530.2,432.2 L528.5,435 L526.7,432.4 L524.9000000000001,435 L523.2,432.2 L520.2,434 L521.7,430 L521.7,427.20000000000005 L514.9000000000001,424.6 L521.7,421.70000000000005 L514.9000000000001,419.1 L521.7,415.8 L514.9000000000001,413.2 L521.7,409.90000000000003 L514.9000000000001,407.3 L521.7,405 L521.7,402.5 L518.5,396 Z" fill="#1d1b1a" /><polygon points="1070.7,746.7 1242.0,655.0 1411.8,746.7 1242.7,843.1" fill="url(#gRedTop)" filter="url(#fLava)"/><polygon points="1070.7,746.7 1242.7,843.1 1242.7,908.8 1070.7,802.6" fill="url(#gRedL)" filter="url(#fLava)"/><polygon points="1242.7,843.1 1411.8,746.7 1411.8,805.4 1242.7,908.8" fill="url(#gRedR)" filter="url(#fLava)"/><polygon points="1070.7,746.7 1242.0,655.0 1411.8,746.7 1242.7,843.1" fill="url(#gRedTopL)" /><ellipse cx="1250.0" cy="858.0" rx="58.0" ry="42.0" fill="url(#gGlow)" clip-path="url(#clipRed)"/><line x1="1070.7" y1="746.7" x2="1242.7" y2="843.1" stroke="#ffe9b0" stroke-width="0.8" opacity="0.6"/><line x1="1411.8" y1="746.7" x2="1242.7" y2="843.1" stroke="#ffe9b0" stroke-width="0.8" opacity="0.6"/><line x1="1242.7" y1="843.1" x2="1242.7" y2="908.8" stroke="#fff5c0" stroke-width="0.8" opacity="0.5"/><polygon points="1131.0,606.8 1243.0,556.0 1354.1,605.5 1243.0,667.0" fill="url(#gRockTop)" filter="url(#fRockD)"/><polygon points="1131.0,606.8 1243.0,667.0 1243.0,700.0 1131.0,634.5" fill="url(#gRockL)" filter="url(#fRock2)"/><polygon points="1243.0,667.0 1354.1,605.5 1354.1,633.0 1243.0,700.0" fill="url(#gRockR)" filter="url(#fRock2)"/><line x1="1131.0" y1="606.8" x2="1243.0" y2="667.0" stroke="#c9c9c9" stroke-width="0.6" opacity="0.6"/><line x1="1354.1" y1="605.5" x2="1243.0" y2="667.0" stroke="#c9c9c9" stroke-width="0.6" opacity="0.6"/><ellipse cx="1290.0" cy="640.0" rx="22.0" ry="10.0" fill="#ffffff" opacity="0.55" filter="url(#fBlur4)" transform="rotate(-28 1290 640)"/><polygon points="1134.4,521.6 1243.5,466.3 1354.6,522.9 1243.2,582.7" fill="url(#gSandTop)" filter="url(#fSand)"/><polygon points="1134.4,521.6 1243.2,582.7 1243.2,607.6 1134.4,546.5" fill="url(#gSandL)" filter="url(#fSand)"/><polygon points="1243.2,582.7 1354.6,522.9 1354.6,549.0 1243.2,607.6" fill="url(#gSandR)" filter="url(#fSand)"/><polygon points="1125.0,776.0 1191.8,786.1 1189.5,788.6 1201.0,785.5 1190.6,779.7 1192.3,782.6" fill="#ffffff" /><polygon points="1120.0,829.0 1209.9,799.0 1208.1,804.5 1224.0,790.0 1202.5,789.5 1207.4,792.5" fill="#ffffff" /><polygon points="1190.0,857.0 1215.6,814.3 1217.1,817.8 1219.0,804.0 1208.4,813.0 1212.1,812.4" fill="#ffffff" /><polygon points="1296.0,855.0 1273.2,813.1 1277.0,813.6 1266.0,805.0 1268.4,818.7 1269.8,815.2" fill="#ffffff" /><polygon points="1333.0,813.0 1278.7,794.5 1283.4,791.1 1262.0,793.5 1279.2,806.5 1276.9,801.2" fill="#ffffff" /><polygon points="1360.0,774.0 1294.7,781.9 1296.2,778.9 1286.0,785.0 1297.5,787.8 1295.2,785.4" fill="#ffffff" /><path d="M1104.3,734 L1130,726.5 L1128.5,735.5 L1222,755 L1219,773 L1125.5,751 L1124.5,759.5 Z" fill="url(#gArrWhite)" /><path d="M1212,600 L1212,699 A30,13.5 0 0 0 1271.8,699 L1271.8,600 A30,13.5 0 0 1 1212,600 Z" fill="url(#gMag)" /><ellipse cx="1241.9" cy="600.0" rx="29.9" ry="13.8" fill="#5a0c22" /><path d="M1212,600 A29.9,13.8 0 0 0 1271.8,600 A29.9,9 0 0 1 1212,600 Z" fill="#f48fc0" opacity="0.75"/><ellipse cx="1241.9" cy="600.0" rx="29.9" ry="13.8" fill="none" stroke="#e9d6e6" stroke-width="1"/><ellipse cx="1241.9" cy="699.0" rx="29.9" ry="13.5" fill="#3a0a14" opacity="0.8"/><ellipse cx="1241.9" cy="699.0" rx="29.9" ry="13.5" fill="none" stroke="#f0e0ee" stroke-width="1.1"/><line x1="1218.0" y1="604.0" x2="1218.0" y2="706.0" stroke="#f3d6ea" stroke-width="0.6" opacity="0.7"/><line x1="1222.0" y1="604.0" x2="1222.0" y2="706.0" stroke="#f3d6ea" stroke-width="0.6" opacity="0.7"/><line x1="1262.0" y1="604.0" x2="1262.0" y2="706.0" stroke="#f3d6ea" stroke-width="0.6" opacity="0.7"/><line x1="1266.0" y1="604.0" x2="1266.0" y2="706.0" stroke="#f3d6ea" stroke-width="0.6" opacity="0.7"/><line x1="1212.0" y1="600.0" x2="1212.0" y2="699.0" stroke="#e8b6d8" stroke-width="0.8" /><line x1="1271.8" y1="600.0" x2="1271.8" y2="699.0" stroke="#e8b6d8" stroke-width="0.8" /><ellipse cx="1242.8" cy="191.0" rx="81.5" ry="16.4" fill="#2b4a63" /><ellipse cx="1242.8" cy="191.0" rx="79.5" ry="16.0" fill="#86a5d6" /><ellipse cx="1242.8" cy="191.0" rx="77.5" ry="15.6" fill="#cdbf9f" /><ellipse cx="1242.8" cy="191.0" rx="62.0" ry="12.5" fill="#86a5d6" /><ellipse cx="1242.8" cy="191.0" rx="60.5" ry="12.2" fill="#1f3f74" /><ellipse cx="1242.8" cy="191.0" rx="58.5" ry="11.8" fill="#cdbf9f" /><ellipse cx="1242.8" cy="191.0" rx="47.0" ry="9.5" fill="#86a5d6" /><ellipse cx="1242.8" cy="191.0" rx="45.5" ry="9.2" fill="#1f3f74" /><ellipse cx="1242.8" cy="191.0" rx="43.5" ry="8.8" fill="#cdbf9f" /><ellipse cx="1242.8" cy="191.0" rx="35.5" ry="7.1" fill="#86a5d6" /><ellipse cx="1242.8" cy="191.0" rx="34.0" ry="6.8" fill="#1f3f74" /><ellipse cx="1242.8" cy="191.0" rx="32.0" ry="6.4" fill="#cdbf9f" /><ellipse cx="1242.8" cy="191.0" rx="25.5" ry="5.1" fill="#7fa0d8" /><ellipse cx="1242.8" cy="191.0" rx="24.0" ry="4.8" fill="#2a5596" /><path d="M1218.7,191 A24,4.9 0 0 1 1267.9,191 L1268,420 L1218,420 Z" fill="url(#gBoreV)" /><path d="M1218.7,191 A24,4.9 0 0 1 1267.9,191 L1268,420 L1218,420 Z" fill="url(#gBoreH)" /><polygon points="1210.3,405.0 1273.2,405.0 1271.8,600.0 1212.0,600.0" fill="url(#gCasingEdge)" /><polygon points="1215.5,405.0 1268.3,405.0 1267.2,600.0 1216.6,600.0" fill="url(#gBoreV)" /><polygon points="1215.5,405.0 1268.3,405.0 1267.2,600.0 1216.6,600.0" fill="url(#gBoreH)" /><line x1="1213.2" y1="412.0" x2="1214.4" y2="600.0" stroke="#3a5a9a" stroke-width="0.8" /><line x1="1270.4" y1="412.0" x2="1269.4" y2="600.0" stroke="#3a5a9a" stroke-width="0.8" /><path d="M1198.3,360 L1207.8,364.5 L1207.8,411.5 Q1202,410 1199,406 Z" fill="url(#gBeigeOut)" /><path d="M1288.4,360 L1280.2,364.5 L1280.2,411.5 Q1285,410 1287.6,406 Z" fill="url(#gBeigeOutR)" /><path d="M1186,262 L1196.9,268 L1196.9,364.5 Q1189,361 1186.3,353.5 Z" fill="url(#gBeigeOut)" /><path d="M1299.3,262 L1292.5,268 L1292.5,364.5 Q1297,361 1299,353.5 Z" fill="url(#gBeigeOutR)" /><polygon points="1181.9,200.5 1184.8,200.0 1184.8,267.6 1181.9,267.2" fill="#a9c1ea" /><polygon points="1184.6,200.0 1196.9,197.7 1196.9,268.5 1184.6,267.5" fill="url(#pDots)" /><polygon points="1196.9,197.7 1199.8,197.2 1199.8,364.6 1196.9,364.3" fill="#a9c1ea" /><polygon points="1199.6,197.2 1207.8,195.7 1207.8,365.0 1199.6,364.5" fill="url(#pDots)" /><polygon points="1207.8,195.7 1210.7,195.2 1210.7,412.0 1207.8,411.5" fill="#a9c1ea" /><polygon points="1210.5,195.2 1218.7,193.7 1218.7,412.5 1210.5,412.0" fill="url(#pDots)" /><polygon points="1267.9,193.7 1277.4,195.5 1277.4,412.0 1267.9,412.5" fill="url(#pDots)" /><polygon points="1277.2,195.5 1280.2,196.1 1280.2,411.5 1277.2,412.0" fill="#a9c1ea" /><polygon points="1280.2,196.1 1289.7,197.9 1289.7,364.5 1280.2,365.0" fill="url(#pDots)" /><polygon points="1289.5,197.8 1292.5,198.4 1292.5,364.3 1289.5,364.6" fill="#a9c1ea" /><polygon points="1292.5,198.4 1303.4,200.5 1303.4,267.5 1292.5,268.5" fill="url(#pDots)" /><polygon points="1303.2,200.5 1305.8,201.0 1305.8,267.0 1303.2,267.5" fill="#a9c1ea" /><line x1="1184.7" y1="200.0" x2="1184.7" y2="260.0" stroke="#3b3a36" stroke-width="0.35" /><line x1="1196.9" y1="197.7" x2="1196.9" y2="260.0" stroke="#3b3a36" stroke-width="0.35" /><line x1="1199.7" y1="197.2" x2="1199.7" y2="260.0" stroke="#3b3a36" stroke-width="0.35" /><line x1="1207.8" y1="195.7" x2="1207.8" y2="260.0" stroke="#3b3a36" stroke-width="0.35" /><line x1="1210.6" y1="195.2" x2="1210.6" y2="260.0" stroke="#3b3a36" stroke-width="0.35" /><line x1="1218.7" y1="193.7" x2="1218.7" y2="260.0" stroke="#3b3a36" stroke-width="0.35" /><line x1="1267.9" y1="193.7" x2="1267.9" y2="260.0" stroke="#3b3a36" stroke-width="0.35" /><line x1="1277.3" y1="195.5" x2="1277.3" y2="260.0" stroke="#3b3a36" stroke-width="0.35" /><line x1="1280.2" y1="196.1" x2="1280.2" y2="260.0" stroke="#3b3a36" stroke-width="0.35" /><line x1="1289.6" y1="197.9" x2="1289.6" y2="260.0" stroke="#3b3a36" stroke-width="0.35" /><line x1="1292.5" y1="198.4" x2="1292.5" y2="260.0" stroke="#3b3a36" stroke-width="0.35" /><line x1="1303.3" y1="200.5" x2="1303.3" y2="260.0" stroke="#3b3a36" stroke-width="0.35" /><path d="M1161.4,191 A81.5,16.4 0 0 0 1181.9,201.9 L1181.9,267 A81.5,16.4 0 0 1 1161.4,255 Z" fill="url(#gOuterL)" /><path d="M1161.4,191 A81.5,16.4 0 0 0 1181.9,201.9 L1181.9,267 A81.5,16.4 0 0 1 1161.4,255 Z" fill="url(#gOuterLV)" /><path d="M1324.4,191 A81.5,16.4 0 0 1 1305.6,201.5 L1305.6,267 A81.5,16.4 0 0 0 1324.4,255 Z" fill="url(#gOuterR)" /><polygon points="1232.6,142.0 1251.6,142.0 1249.8,560.0 1235.6,560.0" fill="url(#gWG)" /><ellipse cx="1242.1" cy="142.0" rx="9.5" ry="4.6" fill="#8c8c8e" /><ellipse cx="1242.1" cy="142.2" rx="6.6" ry="2.8" fill="#f2f2f2" /><path d="M1232.6,142 A9.5,4.6 0 0 1 1251.6,142" fill="none" stroke="#3c3c3e" stroke-width="0.8"/><path d="M1238.9,354 Q1238.9,350 1242.5,350 Q1246.1,350 1246.1,354 L1246.1,483 Q1246.1,487 1242.5,487 Q1238.9,487 1238.9,483 Z" fill="#1f3357" stroke="#6c7482" stroke-width="0.7"/><ellipse cx="1242.5" cy="364.0" rx="3.1" ry="2.3" fill="#ee4a2c" /><ellipse cx="1242.5" cy="370.3" rx="3.1" ry="2.3" fill="#ee4a2c" /><ellipse cx="1242.5" cy="376.6" rx="3.1" ry="2.3" fill="#ee4a2c" /><ellipse cx="1242.5" cy="382.9" rx="3.1" ry="2.3" fill="#ee4a2c" /><ellipse cx="1242.5" cy="389.2" rx="3.1" ry="2.3" fill="#ee4a2c" /><ellipse cx="1242.5" cy="395.5" rx="3.1" ry="2.3" fill="#ee4a2c" /><ellipse cx="1242.5" cy="408.1" rx="3.1" ry="2.3" fill="#ee4a2c" /><ellipse cx="1242.5" cy="414.4" rx="3.1" ry="2.3" fill="#ee4a2c" /><ellipse cx="1242.5" cy="420.7" rx="3.1" ry="2.3" fill="#ee4a2c" /><ellipse cx="1242.5" cy="427.0" rx="3.1" ry="2.3" fill="#ee4a2c" /><ellipse cx="1242.5" cy="433.3" rx="3.1" ry="2.3" fill="#ee4a2c" /><ellipse cx="1242.5" cy="439.6" rx="3.1" ry="2.3" fill="#ee4a2c" /><circle cx="1242.5" cy="461.0" r="1.7" fill="#f48fc0" /><circle cx="1242.5" cy="468.5" r="1.7" fill="#f48fc0" /><circle cx="1242.5" cy="476.0" r="1.7" fill="#f48fc0" /><polygon points="1235.6,555.0 1249.8,555.0 1249.4,700.0 1250.0,712.0 1250.0,752.0 1235.0,752.0 1235.0,712.0 1236.2,700.0" fill="url(#gBeamLow)" /><line x1="1235.9" y1="560.0" x2="1236.6" y2="700.0" stroke="#8a8a9a" stroke-width="0.6" opacity="0.6"/><line x1="1249.6" y1="560.0" x2="1249.0" y2="700.0" stroke="#8a8a9a" stroke-width="0.6" opacity="0.6"/><rect x="1234.0" y="518.0" width="17.5" height="70.0" fill="url(#gWGlow)" filter="url(#fBlur1)"/><ellipse cx="1242.5" cy="752.0" rx="7.5" ry="2.8" fill="#c4471d" /><polygon points="1242.0,716.0 1243.4,716.0 1243.4,727.0 1246.0,727.0 1242.7,733.5 1239.4,727.0 1242.0,727.0" fill="#ffffff" /><ellipse cx="1242.8" cy="760.0" rx="6.5" ry="2.4" fill="#e8452a" /><ellipse cx="1242.8" cy="768.0" rx="8.5" ry="3.0" fill="#e8452a" /><ellipse cx="1242.8" cy="776.5" rx="10.0" ry="3.4" fill="#e8452a" /><ellipse cx="1242.8" cy="785.5" rx="10.5" ry="3.6" fill="#ea5a2a" /><ellipse cx="1242.8" cy="801.0" rx="13.5" ry="5.2" fill="#e8352a" /><ellipse cx="1242.8" cy="802.5" rx="9.0" ry="3.0" fill="#c81e1e" /><circle cx="1232.4" cy="777.5" r="1.9" fill="#26262a" /><circle cx="1242.3" cy="789.5" r="1.5" fill="#26262a" /><circle cx="1262.8" cy="772.6" r="1.2" fill="#26262a" /><circle cx="1219.9" cy="751.9" r="1.6" fill="#26262a" /><circle cx="1262.7" cy="749.0" r="1.9" fill="#26262a" /><circle cx="1254.0" cy="777.9" r="1.1" fill="#26262a" /><circle cx="1256.0" cy="743.1" r="2.0" fill="#26262a" /><circle cx="1262.7" cy="745.7" r="1.6" fill="#26262a" /><circle cx="1231.9" cy="739.9" r="1.7" fill="#26262a" /><circle cx="1251.2" cy="789.8" r="1.4" fill="#26262a" /><circle cx="1237.4" cy="778.0" r="1.7" fill="#26262a" /><circle cx="1228.2" cy="762.5" r="1.5" fill="#26262a" /><circle cx="1232.0" cy="773.5" r="1.2" fill="#26262a" /><circle cx="1254.4" cy="735.8" r="1.9" fill="#26262a" /><circle cx="1252.3" cy="784.2" r="1.6" fill="#26262a" /><circle cx="1253.6" cy="738.1" r="2.0" fill="#26262a" /><circle cx="1247.4" cy="786.5" r="1.9" fill="#26262a" /><circle cx="1228.3" cy="764.5" r="1.8" fill="#26262a" /><circle cx="1253.7" cy="784.5" r="1.9" fill="#26262a" /><circle cx="1250.4" cy="794.3" r="1.4" fill="#26262a" /><circle cx="1236.1" cy="790.0" r="1.9" fill="#26262a" /><circle cx="1220.5" cy="752.1" r="1.3" fill="#26262a" /><circle cx="1260.2" cy="747.5" r="2.0" fill="#26262a" /><circle cx="1220.0" cy="758.5" r="1.6" fill="#26262a" /><circle cx="1254.2" cy="755.6" r="1.2" fill="#26262a" /><circle cx="1252.6" cy="735.0" r="1.9" fill="#26262a" /><circle cx="1253.7" cy="784.5" r="1.7" fill="#26262a" /><circle cx="1247.8" cy="789.8" r="1.5" fill="#26262a" /><circle cx="1253.7" cy="787.8" r="1.5" fill="#26262a" /><circle cx="1229.1" cy="780.6" r="1.4" fill="#26262a" /><circle cx="1228.4" cy="747.6" r="2.0" fill="#26262a" /><circle cx="1261.9" cy="772.1" r="1.4" fill="#26262a" /><circle cx="1265.2" cy="756.8" r="1.9" fill="#26262a" /><circle cx="1235.6" cy="786.7" r="1.7" fill="#26262a" /><circle cx="1237.0" cy="778.7" r="1.7" fill="#26262a" /><circle cx="1237.5" cy="774.6" r="1.7" fill="#26262a" /><circle cx="1240.1" cy="796.9" r="1.6" fill="#26262a" /><circle cx="1263.8" cy="769.4" r="1.7" fill="#26262a" /><circle cx="1233.3" cy="786.4" r="1.8" fill="#26262a" /><circle cx="1231.0" cy="780.8" r="1.8" fill="#26262a" /><circle cx="1236.6" cy="790.2" r="1.7" fill="#26262a" /><circle cx="1252.0" cy="793.8" r="1.6" fill="#26262a" /><circle cx="1248.2" cy="790.1" r="1.5" fill="#26262a" /><circle cx="1237.2" cy="774.5" r="1.3" fill="#26262a" /><circle cx="1247.2" cy="763.0" r="1.5" fill="#26262a" /><circle cx="1234.6" cy="780.2" r="1.7" fill="#26262a" /><circle cx="1261.1" cy="746.0" r="1.7" fill="#26262a" /><circle cx="1246.1" cy="783.5" r="1.1" fill="#26262a" /><circle cx="1224.7" cy="750.2" r="1.2" fill="#26262a" /><circle cx="1266.4" cy="765.7" r="1.7" fill="#26262a" /><circle cx="1220.8" cy="744.8" r="1.1" fill="#26262a" /><circle cx="1223.6" cy="756.8" r="1.2" fill="#26262a" /><circle cx="1253.2" cy="751.7" r="1.7" fill="#26262a" /><circle cx="1260.9" cy="773.1" r="1.6" fill="#26262a" /><circle cx="1251.5" cy="784.9" r="1.8" fill="#26262a" /><circle cx="1228.8" cy="751.8" r="1.6" fill="#26262a" /><circle cx="1232.8" cy="792.9" r="1.6" fill="#26262a" /><circle cx="1238.3" cy="792.5" r="1.2" fill="#26262a" /><circle cx="1226.7" cy="770.7" r="1.7" fill="#26262a" /><circle cx="1262.3" cy="752.7" r="1.3" fill="#26262a" /><circle cx="1240.5" cy="798.3" r="2.0" fill="#26262a" /><circle cx="1259.3" cy="768.5" r="2.0" fill="#26262a" /><circle cx="1218.7" cy="761.0" r="2.0" fill="#26262a" /><circle cx="1218.8" cy="753.2" r="1.2" fill="#26262a" /><circle cx="1225.7" cy="756.8" r="1.8" fill="#26262a" /><polygon points="1226.6,237.5 1230.9,248.5 1228.1,246.5 1226.9,295.0 1226.3,295.0 1225.1,246.5 1222.3,248.5" fill="#ffe81a" stroke="#6b5e00" stroke-width="0.3"/><polygon points="1257.0,274.5 1261.3,285.5 1258.5,283.5 1257.3,333.0 1256.7,333.0 1255.5,283.5 1252.7,285.5" fill="#ffe81a" stroke="#6b5e00" stroke-width="0.3"/><polygon points="1255.8,448.0 1260.1,459.0 1257.3,457.0 1256.1,484.0 1255.5,484.0 1254.3,457.0 1251.5,459.0" fill="#ffe81a" stroke="#6b5e00" stroke-width="0.3"/><polygon points="1227.3,476.5 1231.6,487.5 1228.8,485.5 1227.6,510.0 1227.0,510.0 1225.8,485.5 1223.0,487.5" fill="#ffe81a" stroke="#6b5e00" stroke-width="0.3"/><polygon points="1257.2,519.5 1261.5,530.5 1258.7,528.5 1257.5,555.0 1256.9,555.0 1255.7,528.5 1252.9,530.5" fill="#ffe81a" stroke="#6b5e00" stroke-width="0.3"/><polygon points="1256.9,582.5 1261.2,593.5 1258.4,591.5 1257.2,608.0 1256.6,608.0 1255.4,591.5 1252.6,593.5" fill="#ffe81a" stroke="#6b5e00" stroke-width="0.3"/><polygon points="1230.0,596.0 1234.3,607.0 1231.5,605.0 1230.3,616.0 1229.7,616.0 1228.5,605.0 1225.7,607.0" fill="#ffe81a" stroke="#6b5e00" stroke-width="0.3"/><circle cx="1226.1" cy="218.3" r="1.5" fill="#e0307a" /><circle cx="1226.1" cy="224.5" r="1.5" fill="#e0307a" /><circle cx="1226.1" cy="230.8" r="1.5" fill="#e0307a" /><circle cx="1259.1" cy="243.7" r="1.5" fill="#1a1a1a" /><circle cx="1259.1" cy="249.7" r="1.5" fill="#1a1a1a" /><circle cx="1259.1" cy="255.7" r="1.5" fill="#1a1a1a" /><circle cx="1256.7" cy="486.5" r="1.5" fill="#c2286e" /><circle cx="1256.7" cy="492.6" r="1.5" fill="#c2286e" /><circle cx="1256.7" cy="498.8" r="1.5" fill="#c2286e" /><circle cx="1257.3" cy="559.5" r="1.4" fill="#9a9a8c" /><circle cx="1257.3" cy="566.2" r="1.4" fill="#9a9a8c" /><circle cx="1257.3" cy="572.6" r="1.4" fill="#9a9a8c" /><circle cx="1256.1" cy="622.7" r="1.5" fill="#c9c9c0" /><circle cx="1256.1" cy="629.2" r="1.5" fill="#c9c9c0" /><circle cx="1256.1" cy="635.6" r="1.5" fill="#c9c9c0" /><circle cx="1230.5" cy="638.6" r="1.5" fill="#f060a8" /><circle cx="1230.5" cy="645.0" r="1.5" fill="#f060a8" /><circle cx="1230.5" cy="651.4" r="1.5" fill="#f060a8" /><text x="1241" y="33.5" font-size="16.6" text-anchor="middle" fill="#4d4d4f" >Millimeter</text><text x="1241" y="48.6" font-size="16.6" text-anchor="middle" fill="#4d4d4f" >Waves</text><text x="1292.4" y="88.5" font-size="16.6" text-anchor="start" fill="#4d4d4f" >Argon</text><text x="1164.5" y="104" font-size="16.6" text-anchor="middle" fill="#4d4d4f" >Argon with</text><text x="1165" y="124.5" font-size="16.6" text-anchor="middle" fill="#4d4d4f" >Rock Particles</text><text x="1296.5" y="138.2" font-size="16.6" text-anchor="start" fill="#4d4d4f" >Waveguide</text><text x="1326.2" y="371.4" font-size="16.6" text-anchor="start" fill="#4d4d4f" >Cement</text><text x="1305.8" y="450.4" font-size="16.6" text-anchor="start" fill="#4d4d4f" >Casing</text><text x="1063.5" y="749.4" font-size="16.6" text-anchor="end" fill="#4d4d4f" >Argon with</text><text x="1063.5" y="769.2" font-size="16.6" text-anchor="end" fill="#4d4d4f" >Rock Particles</text><polygon points="1192.0,26.0 1202.5,32.0 1192.0,38.0" fill="#dceff5" /><polygon points="1299.5,7.0 1269.2,54.5 1266.9,48.8 1263.0,70.8 1279.9,56.3 1273.9,57.2" fill="#ed1c24" /><polygon points="1294.8,60.9 1261.8,106.9 1259.8,101.1 1254.7,122.8 1272.4,109.3 1266.4,109.8" fill="#f28cb8" /><polygon points="1296.0,107.4 1262.9,152.9 1261.0,147.1 1255.8,168.8 1273.6,155.3 1267.5,155.9" fill="url(#gArrGrey)" /><polygon points="1336.1,327.5 1303.5,372.1 1301.3,366.4 1297.1,387.5 1314.7,375.1 1308.6,375.4" fill="#c9bb9b" /><polygon points="1317.8,405.2 1285.1,451.1 1282.8,445.3 1278.8,466.5 1296.3,453.9 1290.1,454.3" fill="url(#gArrBlue)" /><ellipse cx="1243.6" cy="70.7" rx="6.5" ry="1.6" fill="#ee4a2c" /><ellipse cx="1243.6" cy="74.5" rx="10.0" ry="1.6" fill="#ee4a2c" /><ellipse cx="1243.6" cy="78.5" rx="11.8" ry="1.6" fill="#ee4a2c" /><ellipse cx="1243.6" cy="82.5" rx="11.0" ry="1.6" fill="#ee4a2c" /><ellipse cx="1243.6" cy="86.3" rx="8.5" ry="1.6" fill="#f28a6a" /><ellipse cx="1243.6" cy="89.5" rx="5.0" ry="1.6" fill="#f28a6a" /><circle cx="1244.0" cy="106.3" r="2.7" fill="#f48fb8" /><circle cx="1244.0" cy="117.8" r="2.7" fill="#f48fb8" /><circle cx="1244.0" cy="129.4" r="2.7" fill="#f48fb8" /><circle cx="1177.0" cy="148.5" r="2.6" fill="#3a3a3a" /><circle cx="1186.5" cy="153.0" r="2.8" fill="#5a5a5a" /><circle cx="1182.0" cy="157.5" r="3.2" fill="#9e1f63" /><circle cx="1184.0" cy="146.0" r="1.3" fill="#9e1f63" /><circle cx="1175.0" cy="155.5" r="1.3" fill="#4a4a4a" /><circle cx="1188.5" cy="148.0" r="1.1" fill="#7a7a7a" /><polygon points="1198.0,134.6 1210.5,143.5 1205.8,145.2 1230.2,200.7 1229.2,201.0 1201.3,147.3 1196.8,149.6" fill="#fff200" stroke="#3a3a1a" stroke-width="0.5"/><g clip-path="url(#clipMag)"><rect x="920.0" y="452.0" width="201.0" height="202.0" fill="#404040" filter="url(#fRock)"/><rect x="976.4" y="452.0" width="20.8" height="202.0" fill="#8a1560" filter="url(#fRock2)"/><rect x="1040.6" y="452.0" width="19.0" height="202.0" fill="#8a1560" filter="url(#fRock2)"/><rect x="997.2" y="452.0" width="43.4" height="202.0" fill="#222222" /><line x1="976.4" y1="452.0" x2="976.4" y2="654.0" stroke="#ffffff" stroke-width="1.5" stroke-dasharray="8 4.6"/><line x1="997.2" y1="452.0" x2="997.2" y2="654.0" stroke="#ffffff" stroke-width="1.5" stroke-dasharray="8 4.6"/><line x1="1040.6" y1="452.0" x2="1040.6" y2="654.0" stroke="#ffffff" stroke-width="1.5" stroke-dasharray="8 4.6"/><line x1="1059.6" y1="452.0" x2="1059.6" y2="654.0" stroke="#ffffff" stroke-width="1.5" stroke-dasharray="8 4.6"/></g><rect x="1010.7" y="428.0" width="20.8" height="244.0" fill="url(#gRod)" /><rect x="1008.0" y="428.0" width="26.0" height="244.0" fill="url(#gRodFade)" /><path d="M1063.6,585.8 L1091,581.5 L1086.5,591 L1140,613 L1133,630 L1079.5,607.5 L1075,617 Z" fill="url(#gArrPurple)" /><text transform="matrix(0.866,0.5,0,1,1097.7,635)" font-size="15" font-weight="700" fill="#231f20" textLength="93" lengthAdjust="spacingAndGlyphs">VITRIFIED WALL</text><circle cx="1091.2" cy="720.9" r="25.7" fill="#231f20" /><circle cx="1084.5" cy="714.0" r="6.5" fill="#77787b" /><path d="M1084.5,707.5 a6.5,6.5 0 0 1 0,13 Z" fill="#c8c9cb" /><circle cx="1102.5" cy="718.5" r="6.5" fill="#a7a9ac" /><path d="M1098,713.8 a6.5,6.5 0 0 0 9,9.4 Z" fill="#6d6e71" /><circle cx="1091.0" cy="732.5" r="6.6" fill="#9e1f63" /><circle cx="1089.5" cy="731.0" r="2.6" fill="#c8327f" /><circle cx="1098.0" cy="708.5" r="2.7" fill="#c8267a" /><circle cx="1079.0" cy="728.0" r="3.2" fill="#58595b" /><circle cx="1100.5" cy="731.0" r="1.8" fill="#939598" /><text transform="matrix(0.866,-0.5,0,1,1278,545.5)" font-size="16.5" font-weight="700" font-style="italic" fill="#231f20" textLength="103" lengthAdjust="spacingAndGlyphs">&lt; 3,000 meters</text><text transform="matrix(0.866,-0.52,0,1,1284.5,635.5)" font-size="16.5" font-weight="700" font-style="italic" textLength="108" lengthAdjust="spacingAndGlyphs"><tspan fill="#ffffff">&lt; 7,000 </tspan><tspan fill="#231f20">meters</tspan></text><text transform="matrix(0.866,-0.52,0,1,1264,733.5)" font-size="16.5" font-weight="700" font-style="italic" textLength="109" lengthAdjust="spacingAndGlyphs"><tspan fill="#ffffff">&gt; 7,000 </tspan><tspan fill="#231f20">meters</tspan></text><circle cx="1168.8" cy="289.2" r="9.0" fill="#1eaeef" /><text x="1168.8" y="294.1" font-size="13.5" font-weight="700" fill="#ffffff" text-anchor="middle">7</text><circle cx="988.7" cy="439.0" r="8.6" fill="#f15a29" /><text x="988.7" y="443.7" font-size="13" font-weight="700" fill="#ffffff" text-anchor="middle">7</text><circle cx="1046.1" cy="792.8" r="8.4" fill="#f15a29" /><text x="1046.1" y="797.5" font-size="13" font-weight="700" fill="#ffffff" text-anchor="middle">5</text><circle cx="418.2" cy="258.2" r="13.7" fill="#f15a29" /><text x="418.2" y="265.8" font-size="21" font-weight="700" fill="#ffffff" text-anchor="middle">4</text><circle cx="603.2" cy="361.4" r="15.0" fill="#1eaeef" /><text x="603.2" y="369.7" font-size="23" font-weight="700" fill="#ffffff" text-anchor="middle">4</text><circle cx="735.8" cy="186.6" r="15.0" fill="#1eaeef" /><text x="735.8" y="194.9" font-size="23" font-weight="700" fill="#ffffff" text-anchor="middle">6</text><circle cx="935.4" cy="218.4" r="15.0" fill="#f15a29" /><text x="935.4" y="226.7" font-size="23" font-weight="700" fill="#ffffff" text-anchor="middle">6</text><text x="253" y="272.4" font-size="23" font-weight="700" fill="#ffffff">2.</text><text x="520" y="127" font-size="23" font-weight="700" fill="#ffffff">3.</text><text x="474.5" y="434" font-size="22" font-weight="700" fill="#ffffff">1.</text><text transform="matrix(0.866,-0.503,0,1,622.5,471.5)" font-size="24.5" font-weight="700" font-style="italic" fill="#ffffff" textLength="223" lengthAdjust="spacingAndGlyphs">Above Ground</text><text transform="matrix(0.866,-0.503,0,1,585.5,565)" font-size="33.5" font-weight="700" font-style="italic" fill="#ffffff" textLength="236" lengthAdjust="spacingAndGlyphs">Below Ground</text>
</svg>
</body></html>
